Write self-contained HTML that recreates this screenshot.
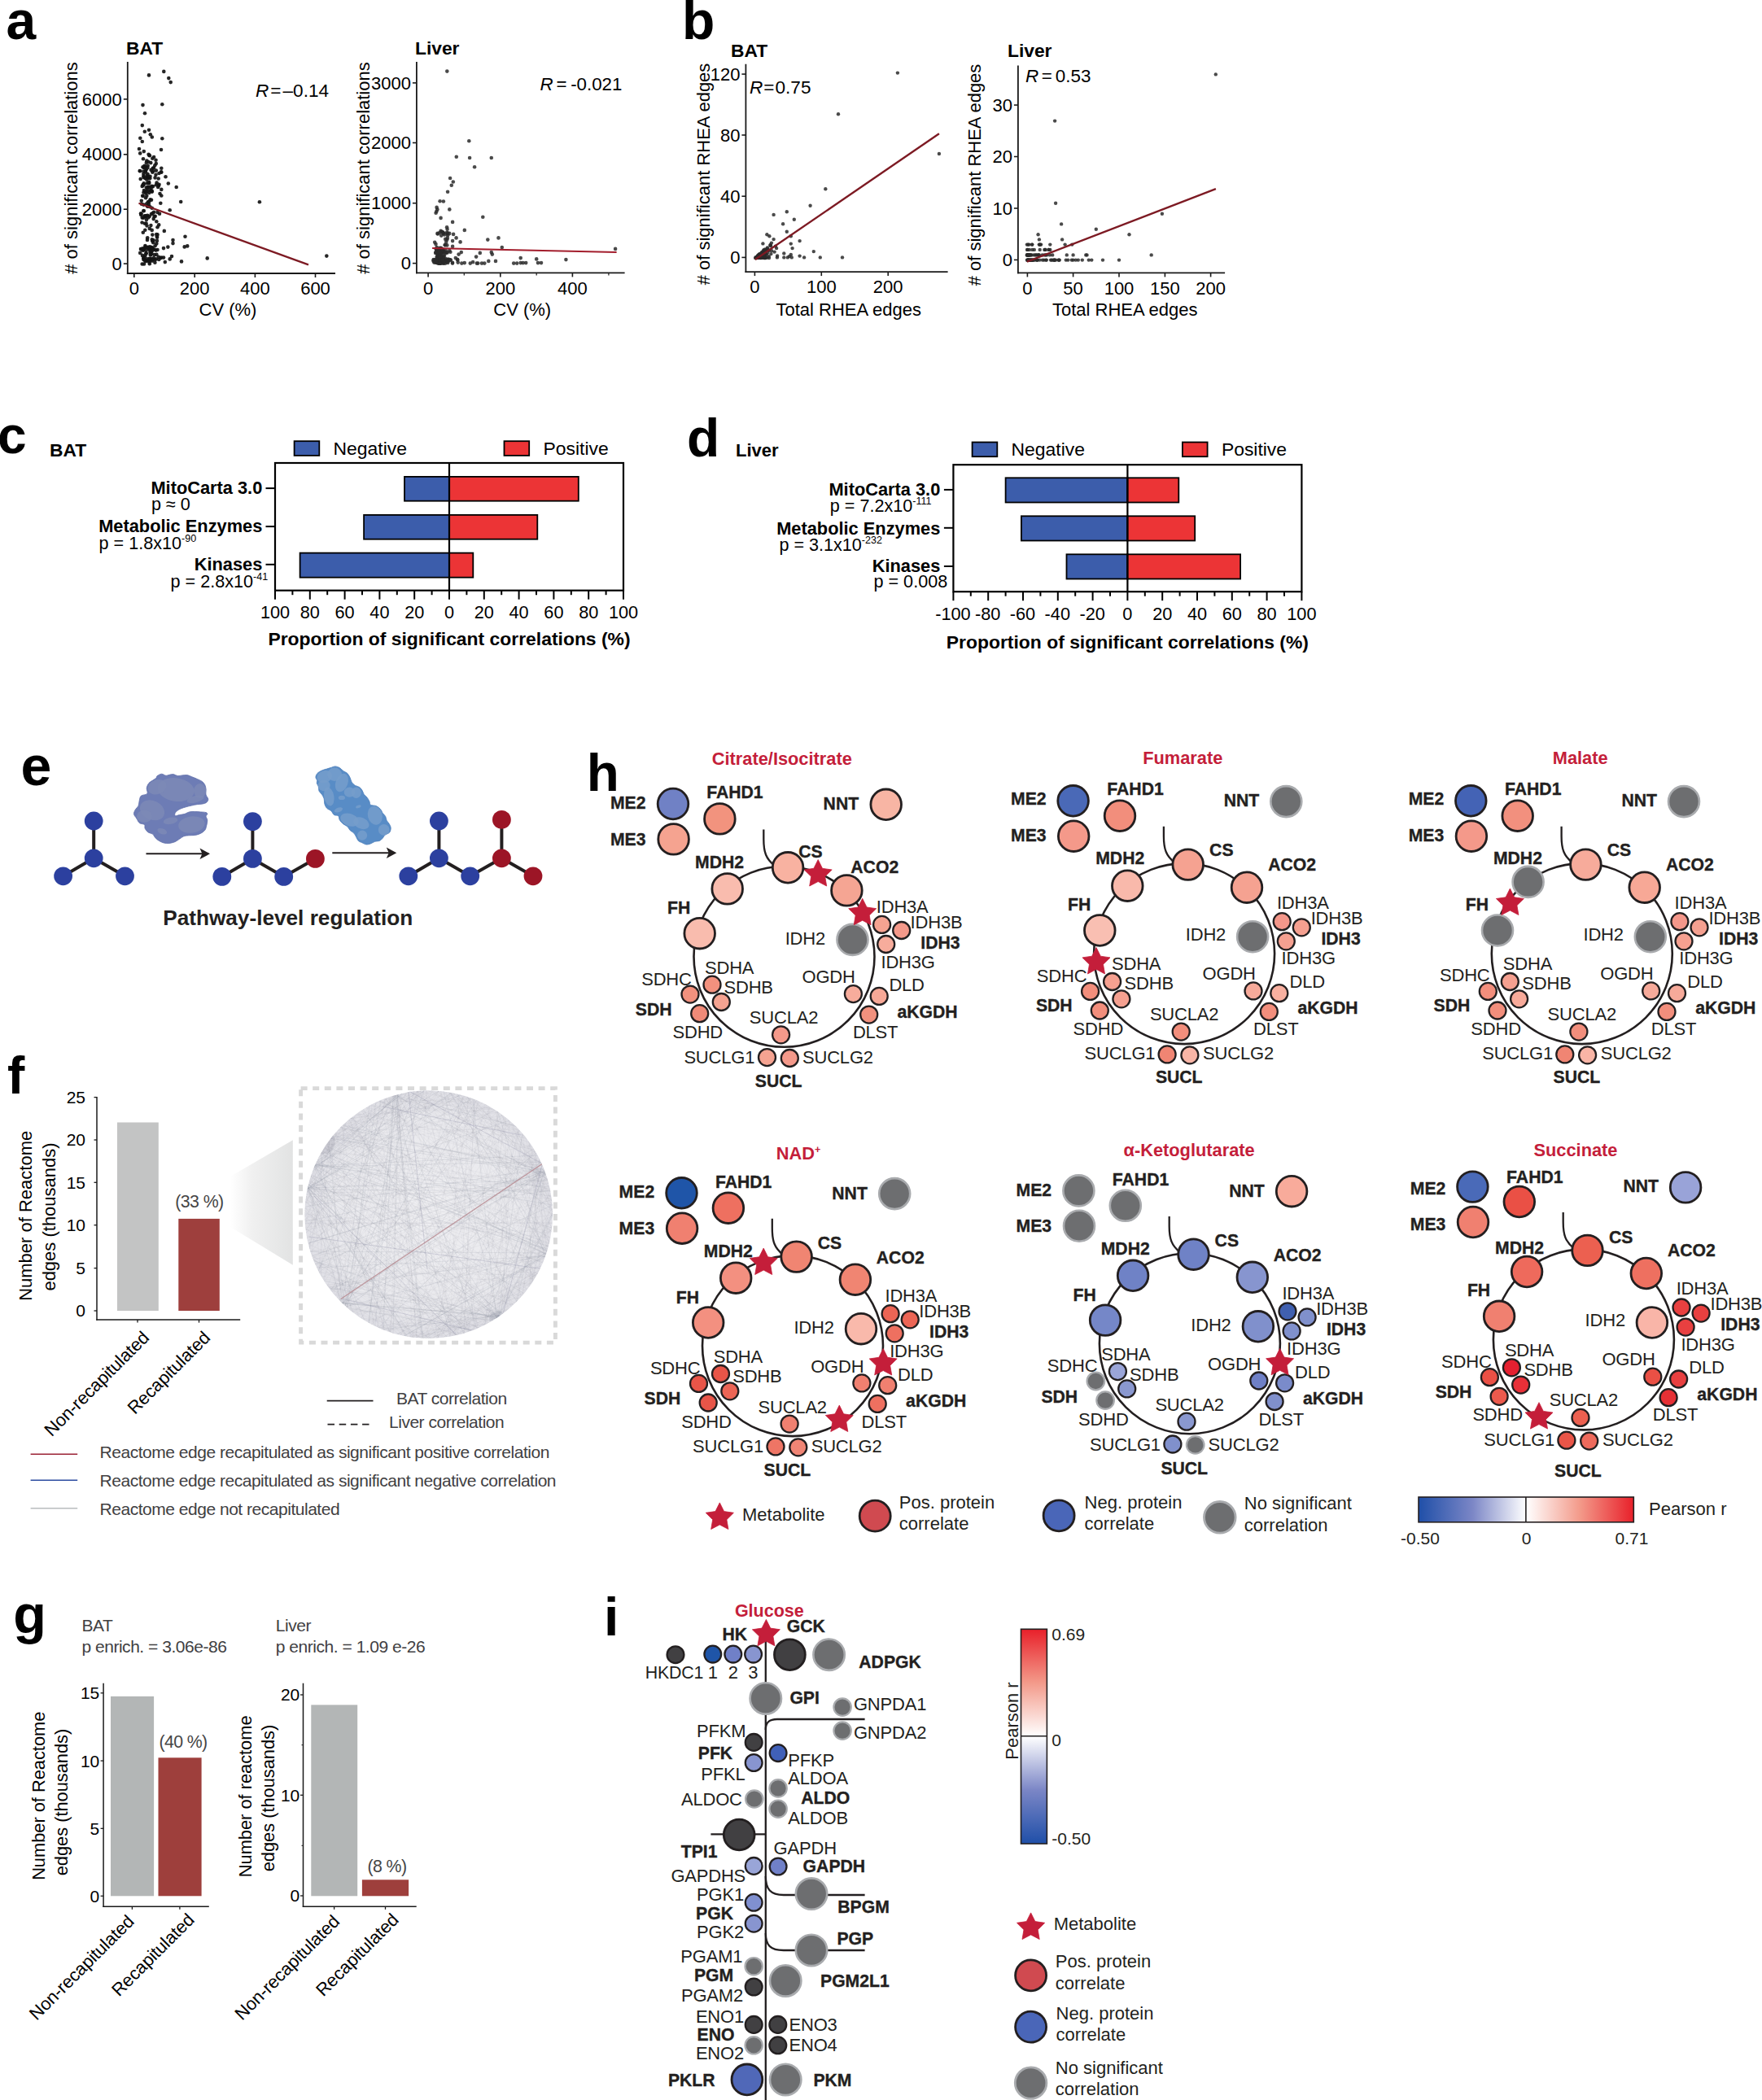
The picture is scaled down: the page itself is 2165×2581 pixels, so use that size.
<!DOCTYPE html>
<html lang="en"><head><meta charset="utf-8"><title>Figure</title>
<style>html,body{margin:0;padding:0;background:#fff}svg{display:block}text{font-family:"Liberation Sans", sans-serif}</style>
</head><body>
<svg width="2165" height="2581" viewBox="0 0 2165 2581">
<rect width="2165" height="2581" fill="#fff"/>
<text x="7.5" y="48.3" font-size="66" font-weight="bold" fill="#000">a</text>
<text x="838.0" y="47.5" font-size="66" font-weight="bold" fill="#000">b</text>
<text x="155.0" y="67.4" font-size="22.8" font-weight="bold" fill="#000">BAT</text>
<line x1="156.8" y1="76.0" x2="156.8" y2="336.9" stroke="#1a1a1a" stroke-width="1.8"/>
<line x1="155.9" y1="336.0" x2="412.0" y2="336.0" stroke="#1a1a1a" stroke-width="1.8"/>
<line x1="151.8" y1="121.9" x2="156.8" y2="121.9" stroke="#1a1a1a" stroke-width="1.6"/>
<text x="149.8" y="129.5" font-size="22" text-anchor="end" fill="#000">6000</text>
<line x1="151.8" y1="189.8" x2="156.8" y2="189.8" stroke="#1a1a1a" stroke-width="1.6"/>
<text x="149.8" y="197.4" font-size="22" text-anchor="end" fill="#000">4000</text>
<line x1="151.8" y1="257.2" x2="156.8" y2="257.2" stroke="#1a1a1a" stroke-width="1.6"/>
<text x="149.8" y="264.8" font-size="22" text-anchor="end" fill="#000">2000</text>
<line x1="151.8" y1="324.1" x2="156.8" y2="324.1" stroke="#1a1a1a" stroke-width="1.6"/>
<text x="149.8" y="331.7" font-size="22" text-anchor="end" fill="#000">0</text>
<line x1="164.8" y1="336.0" x2="164.8" y2="341.0" stroke="#1a1a1a" stroke-width="1.6"/>
<text x="164.8" y="362.3" font-size="22" text-anchor="middle" fill="#000">0</text>
<line x1="239.2" y1="336.0" x2="239.2" y2="341.0" stroke="#1a1a1a" stroke-width="1.6"/>
<text x="239.2" y="362.3" font-size="22" text-anchor="middle" fill="#000">200</text>
<line x1="313.4" y1="336.0" x2="313.4" y2="341.0" stroke="#1a1a1a" stroke-width="1.6"/>
<text x="313.4" y="362.3" font-size="22" text-anchor="middle" fill="#000">400</text>
<line x1="387.5" y1="336.0" x2="387.5" y2="341.0" stroke="#1a1a1a" stroke-width="1.6"/>
<text x="387.5" y="362.3" font-size="22" text-anchor="middle" fill="#000">600</text>
<text x="94.5" y="206.5" font-size="22" text-anchor="middle" transform="rotate(-90 94.5 206.5)" fill="#000"># of significant correlations</text>
<text x="280.0" y="388.0" font-size="22" text-anchor="middle" fill="#000">CV (%)</text>
<text x="314" y="118.6" font-size="22.6"><tspan font-style="italic">R</tspan><tspan dx="2">=</tspan><tspan dx="2">–0.14</tspan></text>
<g fill="#141414" fill-opacity="0.92">
<circle cx="183.0" cy="92.4" r="2.3"/><circle cx="201.3" cy="87.9" r="2.3"/><circle cx="207.3" cy="96.1" r="2.3"/><circle cx="209.7" cy="101.1" r="2.3"/><circle cx="175.5" cy="129.1" r="2.3"/><circle cx="199.3" cy="128.3" r="2.3"/><circle cx="178.0" cy="139.3" r="2.3"/><circle cx="174.8" cy="154.1" r="2.3"/><circle cx="183.0" cy="159.8" r="2.3"/><circle cx="177.8" cy="161.8" r="2.3"/><circle cx="184.8" cy="165.3" r="2.3"/><circle cx="186.8" cy="168.5" r="2.3"/><circle cx="172.3" cy="169.8" r="2.3"/><circle cx="199.3" cy="170.3" r="2.3"/><circle cx="174.8" cy="174.0" r="2.3"/><circle cx="171.0" cy="183.0" r="2.3"/><circle cx="198.0" cy="184.0" r="2.3"/><circle cx="203.5" cy="217.2" r="2.3"/><circle cx="206.8" cy="225.5" r="2.3"/><circle cx="216.7" cy="230.0" r="2.3"/><circle cx="222.2" cy="248.0" r="2.3"/><circle cx="318.9" cy="248.2" r="2.3"/><circle cx="208.7" cy="258.2" r="2.3"/><circle cx="201.8" cy="283.9" r="2.3"/><circle cx="227.5" cy="290.7" r="2.3"/><circle cx="212.5" cy="295.1" r="2.3"/><circle cx="212.5" cy="299.1" r="2.3"/><circle cx="230.2" cy="302.4" r="2.3"/><circle cx="226.7" cy="303.4" r="2.3"/><circle cx="401.3" cy="314.6" r="2.3"/><circle cx="254.7" cy="317.4" r="2.3"/><circle cx="223.0" cy="321.4" r="2.3"/><circle cx="211.0" cy="315.1" r="2.3"/><circle cx="208.7" cy="318.4" r="2.3"/><circle cx="202.8" cy="322.1" r="2.3"/><circle cx="191.5" cy="196.8" r="2.3"/><circle cx="191.8" cy="201.0" r="2.3"/><circle cx="187.8" cy="206.8" r="2.3"/><circle cx="195.5" cy="226.7" r="2.3"/><circle cx="197.3" cy="249.7" r="2.3"/><circle cx="193.5" cy="260.9" r="2.3"/><circle cx="196.0" cy="262.7" r="2.3"/><circle cx="192.3" cy="272.2" r="2.3"/><circle cx="193.5" cy="288.4" r="2.3"/><circle cx="192.3" cy="299.6" r="2.3"/><circle cx="201.0" cy="305.1" r="2.3"/><circle cx="206.3" cy="303.6" r="2.3"/><circle cx="197.3" cy="317.1" r="2.3"/><circle cx="201.0" cy="316.6" r="2.3"/><circle cx="179.3" cy="237.6" r="2.3"/><circle cx="178.5" cy="235.8" r="2.3"/><circle cx="179.8" cy="230.5" r="2.3"/><circle cx="181.1" cy="217.7" r="2.3"/><circle cx="190.7" cy="265.7" r="2.3"/><circle cx="185.6" cy="309.5" r="2.3"/><circle cx="176.2" cy="307.2" r="2.3"/><circle cx="179.7" cy="311.3" r="2.3"/><circle cx="173.8" cy="246.8" r="2.3"/><circle cx="175.7" cy="240.8" r="2.3"/><circle cx="185.5" cy="308.6" r="2.3"/><circle cx="178.4" cy="302.1" r="2.3"/><circle cx="181.5" cy="230.1" r="2.3"/><circle cx="185.2" cy="234.6" r="2.3"/><circle cx="190.5" cy="302.2" r="2.3"/><circle cx="176.7" cy="316.0" r="2.3"/><circle cx="187.3" cy="194.8" r="2.3"/><circle cx="181.8" cy="248.2" r="2.3"/><circle cx="195.0" cy="228.1" r="2.3"/><circle cx="198.3" cy="232.9" r="2.3"/><circle cx="173.0" cy="306.1" r="2.3"/><circle cx="176.6" cy="259.0" r="2.3"/><circle cx="184.2" cy="320.8" r="2.3"/><circle cx="183.9" cy="229.9" r="2.3"/><circle cx="191.5" cy="214.7" r="2.3"/><circle cx="186.4" cy="234.4" r="2.3"/><circle cx="176.0" cy="227.0" r="2.3"/><circle cx="179.8" cy="199.9" r="2.3"/><circle cx="189.1" cy="260.8" r="2.3"/><circle cx="179.6" cy="320.3" r="2.3"/><circle cx="178.1" cy="304.7" r="2.3"/><circle cx="176.4" cy="213.8" r="2.3"/><circle cx="171.8" cy="210.0" r="2.3"/><circle cx="176.5" cy="259.2" r="2.3"/><circle cx="176.6" cy="226.7" r="2.3"/><circle cx="174.7" cy="324.5" r="2.3"/><circle cx="180.7" cy="225.3" r="2.3"/><circle cx="175.1" cy="306.8" r="2.3"/><circle cx="196.5" cy="238.1" r="2.3"/><circle cx="173.6" cy="306.3" r="2.3"/><circle cx="181.6" cy="214.1" r="2.3"/><circle cx="188.3" cy="298.3" r="2.3"/><circle cx="181.7" cy="203.8" r="2.3"/><circle cx="184.0" cy="319.1" r="2.3"/><circle cx="175.5" cy="205.3" r="2.3"/><circle cx="183.4" cy="247.6" r="2.3"/><circle cx="189.0" cy="206.2" r="2.3"/><circle cx="176.6" cy="217.9" r="2.3"/><circle cx="178.7" cy="321.2" r="2.3"/><circle cx="180.7" cy="320.4" r="2.3"/><circle cx="190.6" cy="319.3" r="2.3"/><circle cx="181.6" cy="253.8" r="2.3"/><circle cx="188.0" cy="229.1" r="2.3"/><circle cx="193.5" cy="307.0" r="2.3"/><circle cx="183.2" cy="306.5" r="2.3"/><circle cx="182.4" cy="199.1" r="2.3"/><circle cx="178.0" cy="265.3" r="2.3"/><circle cx="185.8" cy="304.5" r="2.3"/><circle cx="194.7" cy="219.5" r="2.3"/><circle cx="180.3" cy="240.8" r="2.3"/><circle cx="172.2" cy="310.9" r="2.3"/><circle cx="183.9" cy="303.3" r="2.3"/><circle cx="192.2" cy="288.1" r="2.3"/><circle cx="179.6" cy="274.5" r="2.3"/><circle cx="187.3" cy="296.2" r="2.3"/><circle cx="176.5" cy="236.5" r="2.3"/><circle cx="185.4" cy="277.1" r="2.3"/><circle cx="178.3" cy="314.2" r="2.3"/><circle cx="193.1" cy="291.7" r="2.3"/><circle cx="181.0" cy="294.9" r="2.3"/><circle cx="185.3" cy="200.1" r="2.3"/><circle cx="182.6" cy="189.7" r="2.3"/><circle cx="198.0" cy="211.2" r="2.3"/><circle cx="182.4" cy="218.8" r="2.3"/><circle cx="189.8" cy="306.7" r="2.3"/><circle cx="183.4" cy="306.4" r="2.3"/><circle cx="189.1" cy="193.0" r="2.3"/><circle cx="190.3" cy="203.3" r="2.3"/><circle cx="180.5" cy="216.0" r="2.3"/><circle cx="181.3" cy="303.8" r="2.3"/><circle cx="179.1" cy="243.2" r="2.3"/><circle cx="178.7" cy="266.2" r="2.3"/><circle cx="176.8" cy="206.0" r="2.3"/><circle cx="198.3" cy="211.8" r="2.3"/><circle cx="195.4" cy="213.0" r="2.3"/><circle cx="188.7" cy="295.2" r="2.3"/><circle cx="180.0" cy="270.1" r="2.3"/><circle cx="181.7" cy="320.4" r="2.3"/><circle cx="185.5" cy="313.0" r="2.3"/><circle cx="182.2" cy="304.2" r="2.3"/><circle cx="176.3" cy="210.5" r="2.3"/><circle cx="176.4" cy="216.4" r="2.3"/><circle cx="181.0" cy="235.3" r="2.3"/><circle cx="178.9" cy="204.7" r="2.3"/><circle cx="178.0" cy="274.7" r="2.3"/><circle cx="176.8" cy="186.1" r="2.3"/><circle cx="179.3" cy="311.7" r="2.3"/><circle cx="183.8" cy="324.2" r="2.3"/><circle cx="186.5" cy="312.0" r="2.3"/><circle cx="187.3" cy="211.8" r="2.3"/><circle cx="185.6" cy="208.9" r="2.3"/><circle cx="185.1" cy="317.6" r="2.3"/><circle cx="174.6" cy="273.5" r="2.3"/><circle cx="181.2" cy="264.7" r="2.3"/><circle cx="183.4" cy="190.9" r="2.3"/><circle cx="175.9" cy="227.8" r="2.3"/><circle cx="182.3" cy="267.4" r="2.3"/><circle cx="174.7" cy="228.9" r="2.3"/><circle cx="175.2" cy="240.8" r="2.3"/><circle cx="176.3" cy="317.3" r="2.3"/><circle cx="178.1" cy="266.2" r="2.3"/><circle cx="188.9" cy="317.0" r="2.3"/><circle cx="195.2" cy="319.0" r="2.3"/><circle cx="183.2" cy="236.9" r="2.3"/><circle cx="194.8" cy="315.8" r="2.3"/><circle cx="180.1" cy="318.1" r="2.3"/><circle cx="172.0" cy="210.2" r="2.3"/><circle cx="181.2" cy="292.3" r="2.3"/><circle cx="184.4" cy="254.3" r="2.3"/><circle cx="187.3" cy="288.6" r="2.3"/><circle cx="179.7" cy="208.2" r="2.3"/><circle cx="175.7" cy="307.7" r="2.3"/><circle cx="177.0" cy="234.0" r="2.3"/><circle cx="198.3" cy="316.5" r="2.3"/><circle cx="174.0" cy="250.8" r="2.3"/><circle cx="176.2" cy="267.7" r="2.3"/><circle cx="183.6" cy="317.7" r="2.3"/><circle cx="175.8" cy="285.7" r="2.3"/><circle cx="183.8" cy="265.8" r="2.3"/><circle cx="181.0" cy="232.7" r="2.3"/><circle cx="184.5" cy="216.9" r="2.3"/><circle cx="198.3" cy="240.5" r="2.3"/><circle cx="186.8" cy="255.7" r="2.3"/><circle cx="183.7" cy="318.3" r="2.3"/><circle cx="177.5" cy="203.7" r="2.3"/><circle cx="193.5" cy="279.2" r="2.3"/><circle cx="178.6" cy="303.4" r="2.3"/><circle cx="184.2" cy="305.9" r="2.3"/><circle cx="191.8" cy="227.2" r="2.3"/><circle cx="180.4" cy="197.5" r="2.3"/><circle cx="178.9" cy="210.0" r="2.3"/><circle cx="185.9" cy="263.1" r="2.3"/><circle cx="175.7" cy="227.3" r="2.3"/><circle cx="187.0" cy="320.6" r="2.3"/><circle cx="192.9" cy="295.9" r="2.3"/><circle cx="184.6" cy="313.0" r="2.3"/><circle cx="173.5" cy="262.5" r="2.3"/><circle cx="183.8" cy="280.9" r="2.3"/><circle cx="184.6" cy="245.3" r="2.3"/><circle cx="186.7" cy="282.9" r="2.3"/><circle cx="175.0" cy="313.9" r="2.3"/><circle cx="177.0" cy="324.5" r="2.3"/><circle cx="176.7" cy="225.3" r="2.3"/><circle cx="172.7" cy="220.0" r="2.3"/><circle cx="194.2" cy="229.9" r="2.3"/><circle cx="183.3" cy="225.0" r="2.3"/><circle cx="186.8" cy="235.6" r="2.3"/><circle cx="179.5" cy="308.0" r="2.3"/><circle cx="175.3" cy="305.3" r="2.3"/><circle cx="185.6" cy="303.8" r="2.3"/><circle cx="192.8" cy="290.6" r="2.3"/><circle cx="173.0" cy="262.5" r="2.3"/><circle cx="188.1" cy="210.4" r="2.3"/><circle cx="186.8" cy="294.4" r="2.3"/><circle cx="189.8" cy="313.1" r="2.3"/><circle cx="181.0" cy="253.3" r="2.3"/><circle cx="179.1" cy="211.7" r="2.3"/><circle cx="191.9" cy="318.2" r="2.3"/><circle cx="178.3" cy="282.7" r="2.3"/><circle cx="174.7" cy="267.6" r="2.3"/><circle cx="183.4" cy="322.1" r="2.3"/><circle cx="184.2" cy="219.2" r="2.3"/><circle cx="186.4" cy="235.2" r="2.3"/><circle cx="180.6" cy="277.5" r="2.3"/><circle cx="182.3" cy="225.0" r="2.3"/><circle cx="191.5" cy="307.6" r="2.3"/><circle cx="179.6" cy="265.3" r="2.3"/><circle cx="186.9" cy="308.3" r="2.3"/><circle cx="176.0" cy="195.3" r="2.3"/><circle cx="186.4" cy="230.1" r="2.3"/><circle cx="182.3" cy="217.1" r="2.3"/><circle cx="198.3" cy="206.8" r="2.3"/><circle cx="187.6" cy="318.9" r="2.3"/><circle cx="183.9" cy="191.3" r="2.3"/><circle cx="186.0" cy="245.8" r="2.3"/><circle cx="192.6" cy="224.6" r="2.3"/><circle cx="173.5" cy="264.3" r="2.3"/><circle cx="172.2" cy="188.4" r="2.3"/><circle cx="188.7" cy="269.1" r="2.3"/><circle cx="187.6" cy="262.1" r="2.3"/><circle cx="182.5" cy="229.7" r="2.3"/><circle cx="186.4" cy="304.2" r="2.3"/><circle cx="182.9" cy="251.1" r="2.3"/><circle cx="180.4" cy="220.8" r="2.3"/><circle cx="184.4" cy="310.1" r="2.3"/><circle cx="176.3" cy="251.6" r="2.3"/><circle cx="190.6" cy="218.4" r="2.3"/><circle cx="181.3" cy="206.2" r="2.3"/><circle cx="179.7" cy="304.3" r="2.3"/><circle cx="176.4" cy="319.1" r="2.3"/><circle cx="183.1" cy="223.9" r="2.3"/><circle cx="187.2" cy="305.1" r="2.3"/><circle cx="177.5" cy="205.7" r="2.3"/><circle cx="189.5" cy="265.9" r="2.3"/><circle cx="191.8" cy="209.6" r="2.3"/><circle cx="192.4" cy="312.9" r="2.3"/><circle cx="177.7" cy="319.3" r="2.3"/><circle cx="188.0" cy="306.0" r="2.3"/><circle cx="180.1" cy="250.5" r="2.3"/><circle cx="178.3" cy="219.1" r="2.3"/><circle cx="186.4" cy="228.7" r="2.3"/><circle cx="195.2" cy="276.4" r="2.3"/><circle cx="185.1" cy="233.7" r="2.3"/><circle cx="190.4" cy="322.8" r="2.3"/><circle cx="178.4" cy="265.5" r="2.3"/>
</g>
<line x1="170.5" y1="249.7" x2="379.0" y2="325.4" stroke="#7d1a23" stroke-width="2.2"/>
<text x="510.0" y="67.4" font-size="22.8" font-weight="bold" fill="#000">Liver</text>
<line x1="511.9" y1="76.0" x2="511.9" y2="336.3" stroke="#1a1a1a" stroke-width="1.8"/>
<line x1="511.0" y1="335.4" x2="767.6" y2="335.4" stroke="#1a1a1a" stroke-width="1.8"/>
<line x1="506.9" y1="101.9" x2="511.9" y2="101.9" stroke="#1a1a1a" stroke-width="1.6"/>
<text x="504.9" y="109.5" font-size="22" text-anchor="end" fill="#000">3000</text>
<line x1="506.9" y1="175.5" x2="511.9" y2="175.5" stroke="#1a1a1a" stroke-width="1.6"/>
<text x="504.9" y="183.1" font-size="22" text-anchor="end" fill="#000">2000</text>
<line x1="506.9" y1="249.7" x2="511.9" y2="249.7" stroke="#1a1a1a" stroke-width="1.6"/>
<text x="504.9" y="257.3" font-size="22" text-anchor="end" fill="#000">1000</text>
<line x1="506.9" y1="323.6" x2="511.9" y2="323.6" stroke="#1a1a1a" stroke-width="1.6"/>
<text x="504.9" y="331.2" font-size="22" text-anchor="end" fill="#000">0</text>
<line x1="526.1" y1="335.4" x2="526.1" y2="340.4" stroke="#1a1a1a" stroke-width="1.6"/>
<text x="526.1" y="361.7" font-size="22" text-anchor="middle" fill="#000">0</text>
<line x1="614.8" y1="335.4" x2="614.8" y2="340.4" stroke="#1a1a1a" stroke-width="1.6"/>
<text x="614.8" y="361.7" font-size="22" text-anchor="middle" fill="#000">200</text>
<line x1="703.4" y1="335.4" x2="703.4" y2="340.4" stroke="#1a1a1a" stroke-width="1.6"/>
<text x="703.4" y="361.7" font-size="22" text-anchor="middle" fill="#000">400</text>
<line x1="570.3" y1="335.4" x2="570.3" y2="338.4" stroke="#1a1a1a" stroke-width="1.2"/>
<line x1="659.2" y1="335.4" x2="659.2" y2="338.4" stroke="#1a1a1a" stroke-width="1.2"/>
<line x1="747.9" y1="335.4" x2="747.9" y2="338.4" stroke="#1a1a1a" stroke-width="1.2"/>
<text x="453.5" y="206.5" font-size="22" text-anchor="middle" transform="rotate(-90 453.5 206.5)" fill="#000"># of significant correlations</text>
<text x="641.7" y="388.0" font-size="22" text-anchor="middle" fill="#000">CV (%)</text>
<text x="663.5" y="111" font-size="22.3"><tspan font-style="italic">R</tspan><tspan dx="4">=</tspan><tspan dx="4.5">-0.021</tspan></text>
<g fill="#2a2a2a" fill-opacity="0.85">
<circle cx="549.3" cy="87.6" r="2.3"/><circle cx="576.3" cy="173.3" r="2.3"/><circle cx="560.8" cy="192.8" r="2.3"/><circle cx="577.1" cy="194.0" r="2.3"/><circle cx="603.8" cy="194.0" r="2.3"/><circle cx="583.1" cy="205.3" r="2.3"/><circle cx="553.1" cy="219.0" r="2.3"/><circle cx="556.8" cy="223.5" r="2.3"/><circle cx="554.8" cy="227.7" r="2.3"/><circle cx="550.1" cy="235.7" r="2.3"/><circle cx="540.6" cy="247.2" r="2.3"/><circle cx="544.9" cy="247.5" r="2.3"/><circle cx="552.3" cy="257.4" r="2.3"/><circle cx="536.6" cy="254.9" r="2.3"/><circle cx="537.4" cy="257.4" r="2.3"/><circle cx="536.4" cy="259.7" r="2.3"/><circle cx="535.6" cy="261.7" r="2.3"/><circle cx="541.6" cy="267.9" r="2.3"/><circle cx="556.1" cy="272.9" r="2.3"/><circle cx="593.3" cy="266.7" r="2.3"/><circle cx="549.1" cy="279.2" r="2.3"/><circle cx="549.6" cy="281.7" r="2.3"/><circle cx="541.6" cy="283.9" r="2.3"/><circle cx="570.8" cy="282.9" r="2.3"/><circle cx="557.1" cy="287.9" r="2.3"/><circle cx="560.6" cy="292.4" r="2.3"/><circle cx="612.5" cy="292.4" r="2.3"/><circle cx="599.3" cy="294.6" r="2.3"/><circle cx="556.1" cy="296.1" r="2.3"/><circle cx="565.6" cy="297.4" r="2.3"/><circle cx="556.1" cy="302.9" r="2.3"/><circle cx="616.8" cy="304.1" r="2.3"/><circle cx="756.1" cy="305.9" r="2.3"/><circle cx="603.8" cy="310.1" r="2.3"/><circle cx="604.8" cy="312.6" r="2.3"/><circle cx="589.8" cy="310.9" r="2.3"/><circle cx="566.8" cy="310.1" r="2.3"/><circle cx="563.6" cy="312.6" r="2.3"/><circle cx="585.1" cy="315.6" r="2.3"/><circle cx="600.3" cy="320.9" r="2.3"/><circle cx="609.0" cy="320.9" r="2.3"/><circle cx="639.7" cy="317.1" r="2.3"/><circle cx="659.2" cy="318.4" r="2.3"/><circle cx="695.4" cy="319.1" r="2.3"/><circle cx="631.2" cy="323.6" r="2.3"/><circle cx="635.2" cy="323.6" r="2.3"/><circle cx="639.7" cy="323.1" r="2.3"/><circle cx="642.7" cy="323.1" r="2.3"/><circle cx="646.2" cy="323.1" r="2.3"/><circle cx="661.0" cy="323.1" r="2.3"/><circle cx="665.0" cy="323.1" r="2.3"/><circle cx="570.8" cy="323.1" r="2.3"/><circle cx="577.8" cy="323.6" r="2.3"/><circle cx="581.1" cy="322.1" r="2.3"/><circle cx="585.8" cy="323.6" r="2.3"/><circle cx="587.3" cy="323.6" r="2.3"/><circle cx="592.0" cy="323.6" r="2.3"/><circle cx="595.3" cy="323.6" r="2.3"/><circle cx="567.3" cy="323.6" r="2.3"/><circle cx="559.8" cy="317.1" r="2.3"/><circle cx="562.3" cy="319.6" r="2.3"/><circle cx="549.8" cy="292.6" r="2.3"/><circle cx="544.8" cy="286.9" r="2.3"/><circle cx="539.1" cy="320.5" r="2.3"/><circle cx="537.6" cy="314.8" r="2.3"/><circle cx="538.1" cy="320.2" r="2.3"/><circle cx="536.8" cy="322.9" r="2.3"/><circle cx="541.4" cy="318.9" r="2.3"/><circle cx="546.0" cy="319.3" r="2.3"/><circle cx="544.5" cy="320.0" r="2.3"/><circle cx="542.1" cy="309.6" r="2.3"/><circle cx="540.4" cy="305.8" r="2.3"/><circle cx="538.1" cy="323.5" r="2.3"/><circle cx="548.9" cy="310.5" r="2.3"/><circle cx="540.4" cy="321.5" r="2.3"/><circle cx="545.3" cy="286.5" r="2.3"/><circle cx="540.2" cy="321.4" r="2.3"/><circle cx="547.2" cy="321.2" r="2.3"/><circle cx="541.2" cy="323.8" r="2.3"/><circle cx="562.0" cy="318.7" r="2.3"/><circle cx="547.3" cy="317.8" r="2.3"/><circle cx="537.0" cy="307.3" r="2.3"/><circle cx="553.0" cy="319.6" r="2.3"/><circle cx="544.8" cy="310.1" r="2.3"/><circle cx="544.1" cy="285.5" r="2.3"/><circle cx="542.8" cy="323.2" r="2.3"/><circle cx="545.3" cy="308.7" r="2.3"/><circle cx="543.4" cy="310.8" r="2.3"/><circle cx="540.6" cy="321.9" r="2.3"/><circle cx="544.0" cy="322.8" r="2.3"/><circle cx="535.0" cy="319.0" r="2.3"/><circle cx="542.5" cy="318.9" r="2.3"/><circle cx="542.0" cy="304.8" r="2.3"/><circle cx="541.7" cy="312.3" r="2.3"/><circle cx="549.7" cy="287.5" r="2.3"/><circle cx="543.6" cy="317.6" r="2.3"/><circle cx="536.7" cy="304.1" r="2.3"/><circle cx="540.2" cy="286.0" r="2.3"/><circle cx="539.4" cy="323.1" r="2.3"/><circle cx="538.1" cy="319.5" r="2.3"/><circle cx="537.7" cy="318.6" r="2.3"/><circle cx="539.9" cy="323.7" r="2.3"/><circle cx="541.2" cy="305.4" r="2.3"/><circle cx="553.4" cy="309.7" r="2.3"/><circle cx="552.2" cy="286.9" r="2.3"/><circle cx="545.2" cy="322.9" r="2.3"/><circle cx="539.1" cy="322.8" r="2.3"/><circle cx="562.7" cy="322.6" r="2.3"/><circle cx="549.7" cy="320.6" r="2.3"/><circle cx="541.6" cy="308.9" r="2.3"/><circle cx="535.2" cy="310.9" r="2.3"/><circle cx="537.9" cy="287.5" r="2.3"/><circle cx="532.7" cy="319.0" r="2.3"/><circle cx="536.2" cy="321.7" r="2.3"/><circle cx="542.1" cy="319.1" r="2.3"/><circle cx="542.8" cy="319.2" r="2.3"/><circle cx="549.6" cy="310.4" r="2.3"/><circle cx="541.1" cy="322.1" r="2.3"/><circle cx="544.8" cy="323.7" r="2.3"/><circle cx="541.0" cy="323.6" r="2.3"/><circle cx="545.7" cy="318.7" r="2.3"/><circle cx="541.3" cy="321.5" r="2.3"/><circle cx="538.0" cy="312.2" r="2.3"/><circle cx="538.9" cy="306.4" r="2.3"/><circle cx="547.0" cy="301.3" r="2.3"/><circle cx="538.7" cy="316.4" r="2.3"/><circle cx="549.9" cy="319.0" r="2.3"/><circle cx="536.8" cy="320.3" r="2.3"/><circle cx="538.8" cy="308.0" r="2.3"/><circle cx="550.2" cy="322.9" r="2.3"/><circle cx="550.1" cy="289.3" r="2.3"/><circle cx="532.8" cy="319.7" r="2.3"/><circle cx="538.8" cy="323.4" r="2.3"/><circle cx="556.0" cy="323.6" r="2.3"/><circle cx="549.3" cy="294.6" r="2.3"/><circle cx="547.2" cy="293.9" r="2.3"/><circle cx="540.4" cy="304.7" r="2.3"/><circle cx="542.6" cy="318.5" r="2.3"/><circle cx="550.7" cy="318.5" r="2.3"/><circle cx="544.8" cy="314.5" r="2.3"/><circle cx="537.0" cy="309.7" r="2.3"/><circle cx="552.4" cy="319.0" r="2.3"/><circle cx="537.5" cy="286.9" r="2.3"/><circle cx="539.8" cy="323.2" r="2.3"/><circle cx="543.5" cy="308.4" r="2.3"/><circle cx="544.3" cy="322.7" r="2.3"/><circle cx="537.4" cy="319.8" r="2.3"/><circle cx="541.6" cy="309.8" r="2.3"/><circle cx="534.2" cy="297.8" r="2.3"/><circle cx="556.0" cy="322.8" r="2.3"/><circle cx="544.2" cy="323.3" r="2.3"/><circle cx="543.9" cy="306.4" r="2.3"/><circle cx="542.8" cy="284.8" r="2.3"/><circle cx="535.8" cy="306.6" r="2.3"/><circle cx="547.0" cy="323.8" r="2.3"/><circle cx="534.3" cy="322.4" r="2.3"/><circle cx="541.4" cy="322.9" r="2.3"/><circle cx="537.6" cy="314.4" r="2.3"/><circle cx="550.3" cy="286.5" r="2.3"/><circle cx="539.0" cy="319.9" r="2.3"/><circle cx="542.2" cy="289.6" r="2.3"/><circle cx="542.3" cy="316.5" r="2.3"/><circle cx="539.4" cy="323.2" r="2.3"/><circle cx="543.9" cy="306.3" r="2.3"/><circle cx="550.9" cy="321.0" r="2.3"/><circle cx="544.9" cy="319.5" r="2.3"/><circle cx="543.2" cy="319.3" r="2.3"/><circle cx="547.0" cy="321.4" r="2.3"/><circle cx="535.5" cy="300.1" r="2.3"/><circle cx="546.6" cy="320.6" r="2.3"/><circle cx="553.8" cy="319.5" r="2.3"/><circle cx="538.7" cy="319.6" r="2.3"/><circle cx="536.8" cy="315.5" r="2.3"/><circle cx="537.4" cy="311.5" r="2.3"/><circle cx="542.7" cy="319.3" r="2.3"/><circle cx="544.8" cy="316.5" r="2.3"/><circle cx="546.7" cy="301.1" r="2.3"/><circle cx="541.9" cy="314.6" r="2.3"/><circle cx="544.4" cy="320.8" r="2.3"/><circle cx="540.5" cy="314.4" r="2.3"/><circle cx="535.5" cy="310.5" r="2.3"/><circle cx="545.9" cy="288.5" r="2.3"/><circle cx="543.8" cy="285.5" r="2.3"/><circle cx="541.8" cy="319.8" r="2.3"/><circle cx="540.6" cy="315.9" r="2.3"/><circle cx="536.5" cy="317.9" r="2.3"/><circle cx="548.8" cy="322.3" r="2.3"/><circle cx="536.2" cy="305.5" r="2.3"/><circle cx="540.5" cy="320.7" r="2.3"/><circle cx="532.5" cy="320.8" r="2.3"/><circle cx="536.5" cy="322.6" r="2.3"/><circle cx="547.5" cy="307.2" r="2.3"/><circle cx="536.3" cy="322.8" r="2.3"/><circle cx="547.0" cy="311.6" r="2.3"/><circle cx="545.8" cy="322.0" r="2.3"/><circle cx="541.0" cy="311.6" r="2.3"/><circle cx="535.8" cy="309.6" r="2.3"/><circle cx="549.7" cy="320.5" r="2.3"/><circle cx="533.4" cy="322.5" r="2.3"/><circle cx="543.5" cy="320.1" r="2.3"/><circle cx="546.5" cy="309.7" r="2.3"/><circle cx="549.1" cy="285.9" r="2.3"/><circle cx="545.9" cy="314.5" r="2.3"/><circle cx="540.5" cy="323.8" r="2.3"/><circle cx="536.3" cy="319.7" r="2.3"/><circle cx="543.9" cy="319.2" r="2.3"/><circle cx="548.2" cy="297.6" r="2.3"/><circle cx="549.3" cy="301.4" r="2.3"/><circle cx="540.6" cy="311.1" r="2.3"/><circle cx="552.2" cy="308.0" r="2.3"/><circle cx="536.3" cy="321.1" r="2.3"/>
</g>
<line x1="531.1" y1="305.1" x2="757.6" y2="310.1" stroke="#a31d2c" stroke-width="2.0"/>
<text x="898.0" y="70.4" font-size="22.8" font-weight="bold" fill="#000">BAT</text>
<line x1="916.4" y1="78.7" x2="916.4" y2="335.0" stroke="#1a1a1a" stroke-width="1.8"/>
<line x1="915.5" y1="334.1" x2="1164.6" y2="334.1" stroke="#1a1a1a" stroke-width="1.8"/>
<line x1="911.4" y1="91.1" x2="916.4" y2="91.1" stroke="#1a1a1a" stroke-width="1.6"/>
<text x="909.4" y="98.7" font-size="22" text-anchor="end" fill="#000">120</text>
<line x1="911.4" y1="166.0" x2="916.4" y2="166.0" stroke="#1a1a1a" stroke-width="1.6"/>
<text x="909.4" y="173.6" font-size="22" text-anchor="end" fill="#000">80</text>
<line x1="911.4" y1="241.2" x2="916.4" y2="241.2" stroke="#1a1a1a" stroke-width="1.6"/>
<text x="909.4" y="248.8" font-size="22" text-anchor="end" fill="#000">40</text>
<line x1="911.4" y1="316.4" x2="916.4" y2="316.4" stroke="#1a1a1a" stroke-width="1.6"/>
<text x="909.4" y="324.0" font-size="22" text-anchor="end" fill="#000">0</text>
<line x1="927.4" y1="334.1" x2="927.4" y2="339.1" stroke="#1a1a1a" stroke-width="1.6"/>
<text x="927.4" y="360.4" font-size="22" text-anchor="middle" fill="#000">0</text>
<line x1="1009.3" y1="334.1" x2="1009.3" y2="339.1" stroke="#1a1a1a" stroke-width="1.6"/>
<text x="1009.3" y="360.4" font-size="22" text-anchor="middle" fill="#000">100</text>
<line x1="1091.2" y1="334.1" x2="1091.2" y2="339.1" stroke="#1a1a1a" stroke-width="1.6"/>
<text x="1091.2" y="360.4" font-size="22" text-anchor="middle" fill="#000">200</text>
<text x="871.5" y="214.0" font-size="22" text-anchor="middle" transform="rotate(-90 871.5 214.0)" fill="#000"># of significant RHEA edges</text>
<text x="1042.7" y="388.3" font-size="22" text-anchor="middle" fill="#000">Total RHEA edges</text>
<text x="921" y="114.9" font-size="22.6"><tspan font-style="italic">R</tspan><tspan dx="1">=</tspan><tspan dx="1">0.75</tspan></text>
<g fill="#2a2a2a" fill-opacity="0.85">
<circle cx="1102.9" cy="89.6" r="2.2"/><circle cx="1030.0" cy="140.3" r="2.2"/><circle cx="1153.9" cy="189.0" r="2.2"/><circle cx="1014.3" cy="232.2" r="2.2"/><circle cx="995.6" cy="252.7" r="2.2"/><circle cx="966.8" cy="260.2" r="2.2"/><circle cx="950.6" cy="263.9" r="2.2"/><circle cx="975.8" cy="269.7" r="2.2"/><circle cx="962.1" cy="275.2" r="2.2"/><circle cx="966.8" cy="284.7" r="2.2"/><circle cx="942.4" cy="288.2" r="2.2"/><circle cx="945.4" cy="290.2" r="2.2"/><circle cx="971.8" cy="290.2" r="2.2"/><circle cx="950.6" cy="294.1" r="2.2"/><circle cx="982.6" cy="296.1" r="2.2"/><circle cx="937.4" cy="299.4" r="2.2"/><circle cx="971.8" cy="299.6" r="2.2"/><circle cx="973.6" cy="305.1" r="2.2"/><circle cx="999.8" cy="309.1" r="2.2"/><circle cx="963.3" cy="311.4" r="2.2"/><circle cx="971.8" cy="312.9" r="2.2"/><circle cx="982.6" cy="314.6" r="2.2"/><circle cx="988.1" cy="316.4" r="2.2"/><circle cx="1007.8" cy="316.4" r="2.2"/><circle cx="1035.0" cy="316.4" r="2.2"/><circle cx="954.9" cy="316.4" r="2.2"/><circle cx="963.3" cy="316.4" r="2.2"/><circle cx="967.8" cy="316.4" r="2.2"/><circle cx="969.8" cy="315.1" r="2.2"/><circle cx="972.8" cy="316.4" r="2.2"/><circle cx="946.4" cy="301.6" r="2.2"/><circle cx="947.9" cy="298.6" r="2.2"/><circle cx="952.9" cy="302.6" r="2.2"/><circle cx="954.1" cy="305.1" r="2.2"/><circle cx="951.6" cy="309.6" r="2.2"/><circle cx="947.4" cy="312.1" r="2.2"/><circle cx="932.6" cy="314.9" r="2.2"/><circle cx="940.0" cy="317.0" r="2.2"/><circle cx="930.1" cy="316.1" r="2.2"/><circle cx="940.9" cy="312.5" r="2.2"/><circle cx="933.5" cy="312.0" r="2.2"/><circle cx="939.6" cy="316.8" r="2.2"/><circle cx="934.6" cy="312.8" r="2.2"/><circle cx="936.8" cy="312.8" r="2.2"/><circle cx="932.1" cy="313.5" r="2.2"/><circle cx="941.9" cy="312.6" r="2.2"/><circle cx="932.7" cy="315.4" r="2.2"/><circle cx="939.4" cy="314.8" r="2.2"/><circle cx="930.5" cy="316.1" r="2.2"/><circle cx="942.7" cy="305.5" r="2.2"/><circle cx="933.9" cy="314.3" r="2.2"/><circle cx="931.6" cy="314.8" r="2.2"/><circle cx="939.3" cy="313.5" r="2.2"/><circle cx="932.1" cy="314.6" r="2.2"/><circle cx="936.0" cy="316.8" r="2.2"/><circle cx="932.1" cy="316.9" r="2.2"/><circle cx="945.0" cy="317.0" r="2.2"/><circle cx="936.0" cy="312.0" r="2.2"/><circle cx="946.6" cy="300.9" r="2.2"/><circle cx="937.9" cy="310.5" r="2.2"/><circle cx="936.5" cy="311.5" r="2.2"/><circle cx="931.8" cy="314.3" r="2.2"/><circle cx="939.7" cy="315.1" r="2.2"/><circle cx="943.6" cy="307.3" r="2.2"/><circle cx="932.0" cy="313.9" r="2.2"/><circle cx="930.9" cy="316.3" r="2.2"/><circle cx="938.9" cy="313.8" r="2.2"/><circle cx="940.6" cy="316.5" r="2.2"/><circle cx="934.1" cy="316.9" r="2.2"/><circle cx="940.0" cy="306.5" r="2.2"/><circle cx="938.9" cy="317.0" r="2.2"/><circle cx="938.3" cy="307.4" r="2.2"/><circle cx="936.0" cy="313.9" r="2.2"/><circle cx="937.6" cy="315.7" r="2.2"/><circle cx="934.8" cy="317.1" r="2.2"/><circle cx="931.9" cy="316.8" r="2.2"/><circle cx="933.8" cy="316.4" r="2.2"/><circle cx="941.1" cy="307.9" r="2.2"/><circle cx="929.8" cy="317.0" r="2.2"/><circle cx="931.9" cy="314.3" r="2.2"/><circle cx="940.6" cy="309.5" r="2.2"/><circle cx="932.5" cy="316.0" r="2.2"/><circle cx="938.9" cy="309.6" r="2.2"/><circle cx="930.9" cy="314.8" r="2.2"/><circle cx="928.2" cy="317.0" r="2.2"/><circle cx="930.7" cy="315.8" r="2.2"/><circle cx="932.8" cy="315.4" r="2.2"/><circle cx="937.2" cy="315.8" r="2.2"/><circle cx="933.8" cy="315.1" r="2.2"/><circle cx="935.8" cy="314.2" r="2.2"/><circle cx="938.7" cy="307.4" r="2.2"/><circle cx="930.8" cy="316.9" r="2.2"/><circle cx="940.4" cy="308.8" r="2.2"/><circle cx="932.8" cy="312.6" r="2.2"/><circle cx="936.3" cy="312.3" r="2.2"/><circle cx="933.1" cy="315.2" r="2.2"/><circle cx="937.5" cy="311.6" r="2.2"/><circle cx="940.1" cy="317.1" r="2.2"/><circle cx="937.3" cy="313.3" r="2.2"/><circle cx="942.7" cy="316.5" r="2.2"/><circle cx="937.6" cy="309.6" r="2.2"/><circle cx="935.6" cy="310.9" r="2.2"/><circle cx="937.6" cy="310.8" r="2.2"/><circle cx="934.4" cy="313.7" r="2.2"/><circle cx="933.7" cy="316.0" r="2.2"/><circle cx="928.5" cy="316.8" r="2.2"/><circle cx="948.1" cy="308.2" r="2.2"/><circle cx="931.4" cy="314.5" r="2.2"/><circle cx="934.9" cy="316.5" r="2.2"/><circle cx="933.2" cy="314.2" r="2.2"/><circle cx="943.0" cy="304.4" r="2.2"/><circle cx="938.4" cy="315.2" r="2.2"/><circle cx="929.6" cy="316.8" r="2.2"/><circle cx="931.6" cy="315.7" r="2.2"/><circle cx="936.4" cy="315.9" r="2.2"/><circle cx="955.1" cy="314.4" r="2.2"/><circle cx="937.0" cy="310.3" r="2.2"/><circle cx="934.7" cy="313.7" r="2.2"/><circle cx="936.9" cy="316.8" r="2.2"/><circle cx="945.1" cy="307.8" r="2.2"/><circle cx="929.5" cy="315.9" r="2.2"/><circle cx="947.1" cy="302.2" r="2.2"/><circle cx="939.0" cy="314.4" r="2.2"/><circle cx="933.5" cy="316.7" r="2.2"/><circle cx="929.3" cy="316.4" r="2.2"/><circle cx="936.3" cy="309.8" r="2.2"/><circle cx="934.5" cy="313.4" r="2.2"/><circle cx="933.5" cy="315.7" r="2.2"/><circle cx="931.7" cy="314.8" r="2.2"/><circle cx="940.3" cy="311.8" r="2.2"/><circle cx="931.5" cy="313.8" r="2.2"/><circle cx="933.6" cy="315.7" r="2.2"/><circle cx="929.1" cy="316.1" r="2.2"/><circle cx="940.6" cy="307.6" r="2.2"/><circle cx="938.2" cy="310.8" r="2.2"/><circle cx="930.9" cy="314.9" r="2.2"/><circle cx="930.5" cy="315.5" r="2.2"/><circle cx="933.0" cy="316.6" r="2.2"/><circle cx="938.9" cy="314.4" r="2.2"/><circle cx="934.8" cy="315.5" r="2.2"/><circle cx="934.7" cy="312.7" r="2.2"/><circle cx="941.0" cy="316.7" r="2.2"/><circle cx="931.2" cy="316.4" r="2.2"/><circle cx="944.8" cy="314.9" r="2.2"/><circle cx="935.5" cy="316.4" r="2.2"/><circle cx="943.3" cy="310.5" r="2.2"/>
</g>
<line x1="927.9" y1="319.1" x2="1153.9" y2="164.3" stroke="#7d1a23" stroke-width="2.4"/>
<text x="1238.0" y="70.4" font-size="22.8" font-weight="bold" fill="#000">Liver</text>
<line x1="1250.9" y1="80.4" x2="1250.9" y2="336.3" stroke="#1a1a1a" stroke-width="1.8"/>
<line x1="1250.0" y1="335.4" x2="1505.1" y2="335.4" stroke="#1a1a1a" stroke-width="1.8"/>
<line x1="1245.9" y1="129.1" x2="1250.9" y2="129.1" stroke="#1a1a1a" stroke-width="1.6"/>
<text x="1243.9" y="136.7" font-size="22" text-anchor="end" fill="#000">30</text>
<line x1="1245.9" y1="192.5" x2="1250.9" y2="192.5" stroke="#1a1a1a" stroke-width="1.6"/>
<text x="1243.9" y="200.1" font-size="22" text-anchor="end" fill="#000">20</text>
<line x1="1245.9" y1="256.0" x2="1250.9" y2="256.0" stroke="#1a1a1a" stroke-width="1.6"/>
<text x="1243.9" y="263.6" font-size="22" text-anchor="end" fill="#000">10</text>
<line x1="1245.9" y1="319.4" x2="1250.9" y2="319.4" stroke="#1a1a1a" stroke-width="1.6"/>
<text x="1243.9" y="327.0" font-size="22" text-anchor="end" fill="#000">0</text>
<line x1="1262.4" y1="335.4" x2="1262.4" y2="340.4" stroke="#1a1a1a" stroke-width="1.6"/>
<text x="1262.4" y="361.7" font-size="22" text-anchor="middle" fill="#000">0</text>
<line x1="1318.6" y1="335.4" x2="1318.6" y2="340.4" stroke="#1a1a1a" stroke-width="1.6"/>
<text x="1318.6" y="361.7" font-size="22" text-anchor="middle" fill="#000">50</text>
<line x1="1375.0" y1="335.4" x2="1375.0" y2="340.4" stroke="#1a1a1a" stroke-width="1.6"/>
<text x="1375.0" y="361.7" font-size="22" text-anchor="middle" fill="#000">100</text>
<line x1="1431.4" y1="335.4" x2="1431.4" y2="340.4" stroke="#1a1a1a" stroke-width="1.6"/>
<text x="1431.4" y="361.7" font-size="22" text-anchor="middle" fill="#000">150</text>
<line x1="1487.6" y1="335.4" x2="1487.6" y2="340.4" stroke="#1a1a1a" stroke-width="1.6"/>
<text x="1487.6" y="361.7" font-size="22" text-anchor="middle" fill="#000">200</text>
<text x="1205.0" y="215.0" font-size="22" text-anchor="middle" transform="rotate(-90 1205.0 215.0)" fill="#000"># of significant RHEA edges</text>
<text x="1382.2" y="388.3" font-size="22" text-anchor="middle" fill="#000">Total RHEA edges</text>
<text x="1260" y="101.1" font-size="22.4"><tspan font-style="italic">R</tspan><tspan dx="3.5">=</tspan><tspan dx="4">0.53</tspan></text>
<g fill="#2a2a2a" fill-opacity="0.85">
<circle cx="1493.8" cy="91.4" r="2.2"/><circle cx="1296.1" cy="148.6" r="2.2"/><circle cx="1297.1" cy="249.7" r="2.2"/><circle cx="1427.9" cy="262.7" r="2.2"/><circle cx="1304.1" cy="275.4" r="2.2"/><circle cx="1346.8" cy="281.7" r="2.2"/><circle cx="1387.5" cy="288.2" r="2.2"/><circle cx="1275.6" cy="288.2" r="2.2"/><circle cx="1276.9" cy="294.4" r="2.2"/><circle cx="1305.1" cy="294.4" r="2.2"/><circle cx="1414.7" cy="313.4" r="2.2"/><circle cx="1375.0" cy="319.6" r="2.2"/><circle cx="1355.0" cy="319.6" r="2.2"/><circle cx="1341.3" cy="319.6" r="2.2"/><circle cx="1337.8" cy="319.6" r="2.2"/><circle cx="1329.8" cy="319.6" r="2.2"/><circle cx="1324.8" cy="319.6" r="2.2"/><circle cx="1321.8" cy="319.6" r="2.2"/><circle cx="1318.6" cy="319.6" r="2.2"/><circle cx="1316.8" cy="319.6" r="2.2"/><circle cx="1312.3" cy="319.6" r="2.2"/><circle cx="1309.8" cy="319.6" r="2.2"/><circle cx="1310.8" cy="313.4" r="2.2"/><circle cx="1318.6" cy="313.4" r="2.2"/><circle cx="1334.3" cy="313.4" r="2.2"/><circle cx="1335.5" cy="313.4" r="2.2"/><circle cx="1308.6" cy="300.6" r="2.2"/><circle cx="1317.3" cy="300.6" r="2.2"/><circle cx="1290.3" cy="300.6" r="2.2"/><circle cx="1269.0" cy="319.6" r="2.2"/><circle cx="1291.1" cy="319.6" r="2.2"/><circle cx="1274.1" cy="319.6" r="2.2"/><circle cx="1280.9" cy="319.6" r="2.2"/><circle cx="1263.7" cy="319.6" r="2.2"/><circle cx="1265.5" cy="319.6" r="2.2"/><circle cx="1262.3" cy="319.6" r="2.2"/><circle cx="1285.2" cy="319.6" r="2.2"/><circle cx="1277.4" cy="319.6" r="2.2"/><circle cx="1263.7" cy="319.6" r="2.2"/><circle cx="1293.9" cy="319.6" r="2.2"/><circle cx="1266.7" cy="319.6" r="2.2"/><circle cx="1271.5" cy="319.6" r="2.2"/><circle cx="1263.9" cy="319.6" r="2.2"/><circle cx="1266.8" cy="319.6" r="2.2"/><circle cx="1292.1" cy="319.6" r="2.2"/><circle cx="1268.8" cy="319.6" r="2.2"/><circle cx="1264.2" cy="319.6" r="2.2"/><circle cx="1274.7" cy="319.6" r="2.2"/><circle cx="1268.3" cy="319.6" r="2.2"/><circle cx="1295.8" cy="319.6" r="2.2"/><circle cx="1263.1" cy="319.6" r="2.2"/><circle cx="1300.5" cy="319.6" r="2.2"/><circle cx="1262.3" cy="319.6" r="2.2"/><circle cx="1295.3" cy="319.6" r="2.2"/><circle cx="1282.8" cy="319.6" r="2.2"/><circle cx="1265.2" cy="319.6" r="2.2"/><circle cx="1274.1" cy="319.6" r="2.2"/><circle cx="1267.3" cy="319.6" r="2.2"/><circle cx="1266.4" cy="319.6" r="2.2"/><circle cx="1265.0" cy="319.6" r="2.2"/><circle cx="1269.8" cy="319.6" r="2.2"/><circle cx="1301.3" cy="319.6" r="2.2"/><circle cx="1301.7" cy="319.6" r="2.2"/><circle cx="1297.1" cy="319.6" r="2.2"/><circle cx="1262.8" cy="319.6" r="2.2"/><circle cx="1267.4" cy="319.6" r="2.2"/><circle cx="1295.4" cy="319.6" r="2.2"/><circle cx="1262.3" cy="319.6" r="2.2"/><circle cx="1285.8" cy="319.6" r="2.2"/><circle cx="1266.4" cy="313.4" r="2.2"/><circle cx="1293.2" cy="313.4" r="2.2"/><circle cx="1261.9" cy="313.4" r="2.2"/><circle cx="1284.9" cy="313.4" r="2.2"/><circle cx="1267.7" cy="313.4" r="2.2"/><circle cx="1263.3" cy="313.4" r="2.2"/><circle cx="1261.9" cy="313.4" r="2.2"/><circle cx="1286.1" cy="313.4" r="2.2"/><circle cx="1273.5" cy="313.4" r="2.2"/><circle cx="1264.1" cy="313.4" r="2.2"/><circle cx="1270.5" cy="313.4" r="2.2"/><circle cx="1289.9" cy="313.4" r="2.2"/><circle cx="1264.7" cy="313.4" r="2.2"/><circle cx="1275.1" cy="313.4" r="2.2"/><circle cx="1263.2" cy="313.4" r="2.2"/><circle cx="1264.0" cy="313.4" r="2.2"/><circle cx="1283.3" cy="313.4" r="2.2"/><circle cx="1280.7" cy="313.4" r="2.2"/><circle cx="1264.3" cy="313.4" r="2.2"/><circle cx="1262.4" cy="313.4" r="2.2"/><circle cx="1262.5" cy="313.4" r="2.2"/><circle cx="1276.5" cy="313.4" r="2.2"/><circle cx="1272.4" cy="313.4" r="2.2"/><circle cx="1266.0" cy="313.4" r="2.2"/><circle cx="1264.5" cy="313.4" r="2.2"/><circle cx="1276.7" cy="313.4" r="2.2"/><circle cx="1283.4" cy="306.9" r="2.2"/><circle cx="1288.7" cy="306.9" r="2.2"/><circle cx="1277.7" cy="306.9" r="2.2"/><circle cx="1264.8" cy="306.9" r="2.2"/><circle cx="1262.4" cy="306.9" r="2.2"/><circle cx="1284.6" cy="306.9" r="2.2"/><circle cx="1270.8" cy="306.9" r="2.2"/><circle cx="1284.1" cy="306.9" r="2.2"/><circle cx="1262.2" cy="306.9" r="2.2"/><circle cx="1288.6" cy="306.9" r="2.2"/><circle cx="1268.4" cy="306.9" r="2.2"/><circle cx="1290.3" cy="306.9" r="2.2"/><circle cx="1277.7" cy="300.6" r="2.2"/><circle cx="1268.3" cy="300.6" r="2.2"/><circle cx="1261.9" cy="300.6" r="2.2"/><circle cx="1279.1" cy="300.6" r="2.2"/><circle cx="1268.0" cy="300.6" r="2.2"/><circle cx="1277.9" cy="300.6" r="2.2"/><circle cx="1264.3" cy="300.6" r="2.2"/><circle cx="1263.2" cy="300.6" r="2.2"/><circle cx="1276.8" cy="300.6" r="2.2"/>
</g>
<line x1="1261.9" y1="321.6" x2="1493.9" y2="232.2" stroke="#7d1a23" stroke-width="2.4"/>
<text x="-3.0" y="556.5" font-size="64" font-weight="bold" fill="#000">c</text>
<text x="844.0" y="561.2" font-size="66" font-weight="bold" fill="#000">d</text>
<text x="61.0" y="560.5" font-size="22.8" font-weight="bold" fill="#000">BAT</text>
<rect x="361.6" y="542.2" width="30.7" height="17.7" fill="#3c5dab" stroke="#000" stroke-width="1.8"/>
<text x="409.6" y="558.8" font-size="22.9" fill="#000">Negative</text>
<rect x="619.5" y="542.2" width="30.7" height="17.7" fill="#ec3436" stroke="#000" stroke-width="1.8"/>
<text x="667.5" y="558.8" font-size="22.9" fill="#000">Positive</text>
<rect x="497.0" y="585.9" width="55.0" height="29.8" fill="#3c5dab" stroke="#000" stroke-width="1.8"/>
<rect x="552.0" y="585.9" width="158.8" height="29.8" fill="#ec3436" stroke="#000" stroke-width="1.8"/>
<rect x="447.1" y="632.9" width="104.9" height="29.8" fill="#3c5dab" stroke="#000" stroke-width="1.8"/>
<rect x="552.0" y="632.9" width="108.3" height="29.8" fill="#ec3436" stroke="#000" stroke-width="1.8"/>
<rect x="368.6" y="679.6" width="183.4" height="30.1" fill="#3c5dab" stroke="#000" stroke-width="1.8"/>
<rect x="552.0" y="679.6" width="29.3" height="30.1" fill="#ec3436" stroke="#000" stroke-width="1.8"/>
<rect x="338.0" y="569.0" width="428.0" height="156.7" fill="none" stroke="#000" stroke-width="2.2"/>
<line x1="552.0" y1="569.0" x2="552.0" y2="725.7" stroke="#000" stroke-width="2.2"/>
<line x1="338.0" y1="725.7" x2="338.0" y2="736.7" stroke="#000" stroke-width="2.0"/>
<line x1="359.4" y1="725.7" x2="359.4" y2="731.2" stroke="#000" stroke-width="2.0"/>
<line x1="380.8" y1="725.7" x2="380.8" y2="736.7" stroke="#000" stroke-width="2.0"/>
<line x1="402.2" y1="725.7" x2="402.2" y2="731.2" stroke="#000" stroke-width="2.0"/>
<line x1="423.6" y1="725.7" x2="423.6" y2="736.7" stroke="#000" stroke-width="2.0"/>
<line x1="445.0" y1="725.7" x2="445.0" y2="731.2" stroke="#000" stroke-width="2.0"/>
<line x1="466.4" y1="725.7" x2="466.4" y2="736.7" stroke="#000" stroke-width="2.0"/>
<line x1="487.8" y1="725.7" x2="487.8" y2="731.2" stroke="#000" stroke-width="2.0"/>
<line x1="509.2" y1="725.7" x2="509.2" y2="736.7" stroke="#000" stroke-width="2.0"/>
<line x1="530.6" y1="725.7" x2="530.6" y2="731.2" stroke="#000" stroke-width="2.0"/>
<line x1="552.0" y1="725.7" x2="552.0" y2="736.7" stroke="#000" stroke-width="2.0"/>
<line x1="573.4" y1="725.7" x2="573.4" y2="731.2" stroke="#000" stroke-width="2.0"/>
<line x1="594.8" y1="725.7" x2="594.8" y2="736.7" stroke="#000" stroke-width="2.0"/>
<line x1="616.2" y1="725.7" x2="616.2" y2="731.2" stroke="#000" stroke-width="2.0"/>
<line x1="637.6" y1="725.7" x2="637.6" y2="736.7" stroke="#000" stroke-width="2.0"/>
<line x1="659.0" y1="725.7" x2="659.0" y2="731.2" stroke="#000" stroke-width="2.0"/>
<line x1="680.4" y1="725.7" x2="680.4" y2="736.7" stroke="#000" stroke-width="2.0"/>
<line x1="701.8" y1="725.7" x2="701.8" y2="731.2" stroke="#000" stroke-width="2.0"/>
<line x1="723.2" y1="725.7" x2="723.2" y2="736.7" stroke="#000" stroke-width="2.0"/>
<line x1="744.6" y1="725.7" x2="744.6" y2="731.2" stroke="#000" stroke-width="2.0"/>
<line x1="766.0" y1="725.7" x2="766.0" y2="736.7" stroke="#000" stroke-width="2.0"/>
<text x="338.0" y="760.0" font-size="21.7" text-anchor="middle" fill="#000">100</text>
<text x="380.8" y="760.0" font-size="21.7" text-anchor="middle" fill="#000">80</text>
<text x="423.6" y="760.0" font-size="21.7" text-anchor="middle" fill="#000">60</text>
<text x="466.4" y="760.0" font-size="21.7" text-anchor="middle" fill="#000">40</text>
<text x="509.2" y="760.0" font-size="21.7" text-anchor="middle" fill="#000">20</text>
<text x="552.0" y="760.0" font-size="21.7" text-anchor="middle" fill="#000">0</text>
<text x="594.8" y="760.0" font-size="21.7" text-anchor="middle" fill="#000">20</text>
<text x="637.6" y="760.0" font-size="21.7" text-anchor="middle" fill="#000">40</text>
<text x="680.4" y="760.0" font-size="21.7" text-anchor="middle" fill="#000">60</text>
<text x="723.2" y="760.0" font-size="21.7" text-anchor="middle" fill="#000">80</text>
<text x="766.0" y="760.0" font-size="21.7" text-anchor="middle" fill="#000">100</text>
<text x="552.0" y="793.2" font-size="22.9" font-weight="bold" text-anchor="middle" fill="#000">Proportion of significant correlations (%)</text>
<line x1="326.5" y1="600.1" x2="338.0" y2="600.1" stroke="#000" stroke-width="2.0"/>
<text x="322.3" y="607.4" font-size="21.8" font-weight="bold" text-anchor="end" fill="#000">MitoCarta 3.0</text>
<text x="186.0" y="627.3" font-size="21.6">p ≈ 0</text>
<line x1="326.5" y1="647.1" x2="338.0" y2="647.1" stroke="#000" stroke-width="2.0"/>
<text x="322.3" y="654.2" font-size="21.8" font-weight="bold" text-anchor="end" fill="#000">Metabolic Enzymes</text>
<text x="121.6" y="674.8" font-size="21.6">p = 1.8x10<tspan font-size="12.5" dy="-9">-90</tspan></text>
<line x1="326.5" y1="693.8" x2="338.0" y2="693.8" stroke="#000" stroke-width="2.0"/>
<text x="322.3" y="701.2" font-size="21.8" font-weight="bold" text-anchor="end" fill="#000">Kinases</text>
<text x="209.6" y="721.7" font-size="21.6">p = 2.8x10<tspan font-size="12.5" dy="-9">-41</tspan></text>
<text x="904.0" y="560.7" font-size="22" font-weight="bold" fill="#000">Liver</text>
<rect x="1194.6" y="543.5" width="30.7" height="17.7" fill="#3c5dab" stroke="#000" stroke-width="1.8"/>
<text x="1242.6" y="560.1" font-size="22.9" fill="#000">Negative</text>
<rect x="1452.9" y="543.5" width="30.7" height="17.7" fill="#ec3436" stroke="#000" stroke-width="1.8"/>
<text x="1500.9" y="560.1" font-size="22.9" fill="#000">Positive</text>
<rect x="1235.6" y="587.3" width="149.8" height="30.2" fill="#3c5dab" stroke="#000" stroke-width="1.8"/>
<rect x="1385.4" y="587.3" width="62.9" height="30.2" fill="#ec3436" stroke="#000" stroke-width="1.8"/>
<rect x="1254.9" y="634.3" width="130.5" height="30.2" fill="#3c5dab" stroke="#000" stroke-width="1.8"/>
<rect x="1385.4" y="634.3" width="82.8" height="30.2" fill="#ec3436" stroke="#000" stroke-width="1.8"/>
<rect x="1310.5" y="681.3" width="74.9" height="30.2" fill="#3c5dab" stroke="#000" stroke-width="1.8"/>
<rect x="1385.4" y="681.3" width="138.7" height="30.2" fill="#ec3436" stroke="#000" stroke-width="1.8"/>
<rect x="1171.4" y="571.2" width="428.0" height="156.0" fill="none" stroke="#000" stroke-width="2.2"/>
<line x1="1385.4" y1="571.2" x2="1385.4" y2="727.2" stroke="#000" stroke-width="2.2"/>
<line x1="1171.4" y1="727.2" x2="1171.4" y2="738.2" stroke="#000" stroke-width="2.0"/>
<line x1="1192.8" y1="727.2" x2="1192.8" y2="732.7" stroke="#000" stroke-width="2.0"/>
<line x1="1214.2" y1="727.2" x2="1214.2" y2="738.2" stroke="#000" stroke-width="2.0"/>
<line x1="1235.6" y1="727.2" x2="1235.6" y2="732.7" stroke="#000" stroke-width="2.0"/>
<line x1="1257.0" y1="727.2" x2="1257.0" y2="738.2" stroke="#000" stroke-width="2.0"/>
<line x1="1278.4" y1="727.2" x2="1278.4" y2="732.7" stroke="#000" stroke-width="2.0"/>
<line x1="1299.8" y1="727.2" x2="1299.8" y2="738.2" stroke="#000" stroke-width="2.0"/>
<line x1="1321.2" y1="727.2" x2="1321.2" y2="732.7" stroke="#000" stroke-width="2.0"/>
<line x1="1342.6" y1="727.2" x2="1342.6" y2="738.2" stroke="#000" stroke-width="2.0"/>
<line x1="1364.0" y1="727.2" x2="1364.0" y2="732.7" stroke="#000" stroke-width="2.0"/>
<line x1="1385.4" y1="727.2" x2="1385.4" y2="738.2" stroke="#000" stroke-width="2.0"/>
<line x1="1406.8" y1="727.2" x2="1406.8" y2="732.7" stroke="#000" stroke-width="2.0"/>
<line x1="1428.2" y1="727.2" x2="1428.2" y2="738.2" stroke="#000" stroke-width="2.0"/>
<line x1="1449.6" y1="727.2" x2="1449.6" y2="732.7" stroke="#000" stroke-width="2.0"/>
<line x1="1471.0" y1="727.2" x2="1471.0" y2="738.2" stroke="#000" stroke-width="2.0"/>
<line x1="1492.4" y1="727.2" x2="1492.4" y2="732.7" stroke="#000" stroke-width="2.0"/>
<line x1="1513.8" y1="727.2" x2="1513.8" y2="738.2" stroke="#000" stroke-width="2.0"/>
<line x1="1535.2" y1="727.2" x2="1535.2" y2="732.7" stroke="#000" stroke-width="2.0"/>
<line x1="1556.6" y1="727.2" x2="1556.6" y2="738.2" stroke="#000" stroke-width="2.0"/>
<line x1="1578.0" y1="727.2" x2="1578.0" y2="732.7" stroke="#000" stroke-width="2.0"/>
<line x1="1599.4" y1="727.2" x2="1599.4" y2="738.2" stroke="#000" stroke-width="2.0"/>
<text x="1170.9" y="761.5" font-size="21.7" text-anchor="middle" fill="#000">-100</text>
<text x="1213.7" y="761.5" font-size="21.7" text-anchor="middle" fill="#000">-80</text>
<text x="1256.5" y="761.5" font-size="21.7" text-anchor="middle" fill="#000">-60</text>
<text x="1299.3" y="761.5" font-size="21.7" text-anchor="middle" fill="#000">-40</text>
<text x="1342.1" y="761.5" font-size="21.7" text-anchor="middle" fill="#000">-20</text>
<text x="1385.4" y="761.5" font-size="21.7" text-anchor="middle" fill="#000">0</text>
<text x="1428.2" y="761.5" font-size="21.7" text-anchor="middle" fill="#000">20</text>
<text x="1471.0" y="761.5" font-size="21.7" text-anchor="middle" fill="#000">40</text>
<text x="1513.8" y="761.5" font-size="21.7" text-anchor="middle" fill="#000">60</text>
<text x="1556.6" y="761.5" font-size="21.7" text-anchor="middle" fill="#000">80</text>
<text x="1599.4" y="761.5" font-size="21.7" text-anchor="middle" fill="#000">100</text>
<text x="1385.4" y="797.0" font-size="22.9" font-weight="bold" text-anchor="middle" fill="#000">Proportion of significant correlations (%)</text>
<line x1="1159.9" y1="601.9" x2="1171.4" y2="601.9" stroke="#000" stroke-width="2.0"/>
<text x="1155.3" y="609.3" font-size="21.8" font-weight="bold" text-anchor="end" fill="#000">MitoCarta 3.0</text>
<text x="1019.8" y="628.6" font-size="21.6">p = 7.2x10<tspan font-size="12.5" dy="-9">-111</tspan></text>
<line x1="1159.9" y1="648.8" x2="1171.4" y2="648.8" stroke="#000" stroke-width="2.0"/>
<text x="1155.3" y="656.6" font-size="21.8" font-weight="bold" text-anchor="end" fill="#000">Metabolic Enzymes</text>
<text x="957.4" y="677.0" font-size="21.6">p = 3.1x10<tspan font-size="12.5" dy="-9">-232</tspan></text>
<line x1="1159.9" y1="696.0" x2="1171.4" y2="696.0" stroke="#000" stroke-width="2.0"/>
<text x="1155.3" y="703.0" font-size="21.8" font-weight="bold" text-anchor="end" fill="#000">Kinases</text>
<text x="1073.5" y="721.7" font-size="21.6">p = 0.008</text>
<text x="25.5" y="964.8" font-size="68" font-weight="bold" fill="#000">e</text>
<line x1="115.2" y1="1054.8" x2="115.2" y2="1009.0" stroke="#231f20" stroke-width="4.0"/>
<line x1="115.2" y1="1054.8" x2="77.6" y2="1076.8" stroke="#231f20" stroke-width="4.0"/>
<line x1="115.2" y1="1054.8" x2="153.5" y2="1076.8" stroke="#231f20" stroke-width="4.0"/>
<circle cx="115.2" cy="1054.8" r="11.4" fill="#2c409f"/>
<circle cx="115.2" cy="1009.0" r="11.4" fill="#2c409f"/>
<circle cx="77.6" cy="1076.8" r="11.4" fill="#2c409f"/>
<circle cx="153.5" cy="1076.8" r="11.4" fill="#2c409f"/>
<line x1="310.4" y1="1055.4" x2="310.4" y2="1009.6" stroke="#231f20" stroke-width="4.0"/>
<line x1="310.4" y1="1055.4" x2="272.8" y2="1077.4" stroke="#231f20" stroke-width="4.0"/>
<line x1="310.4" y1="1055.4" x2="348.7" y2="1077.4" stroke="#231f20" stroke-width="4.0"/>
<line x1="348.7" y1="1077.4" x2="387.4" y2="1055.4" stroke="#231f20" stroke-width="4.0"/>
<circle cx="310.4" cy="1055.4" r="11.4" fill="#2c409f"/>
<circle cx="310.4" cy="1009.6" r="11.4" fill="#2c409f"/>
<circle cx="272.8" cy="1077.4" r="11.4" fill="#2c409f"/>
<circle cx="348.7" cy="1077.4" r="11.4" fill="#2c409f"/>
<circle cx="387.4" cy="1055.4" r="11.4" fill="#9c1526"/>
<line x1="539.4" y1="1054.8" x2="539.4" y2="1009.0" stroke="#231f20" stroke-width="4.0"/>
<line x1="539.4" y1="1054.8" x2="501.8" y2="1076.8" stroke="#231f20" stroke-width="4.0"/>
<line x1="539.4" y1="1054.8" x2="577.7" y2="1076.8" stroke="#231f20" stroke-width="4.0"/>
<line x1="577.7" y1="1076.8" x2="616.4" y2="1054.8" stroke="#231f20" stroke-width="4.0"/>
<line x1="616.4" y1="1054.8" x2="616.4" y2="1007.4" stroke="#231f20" stroke-width="4.0"/>
<line x1="616.4" y1="1054.8" x2="655.0" y2="1076.8" stroke="#231f20" stroke-width="4.0"/>
<circle cx="539.4" cy="1054.8" r="11.4" fill="#2c409f"/>
<circle cx="539.4" cy="1009.0" r="11.4" fill="#2c409f"/>
<circle cx="501.8" cy="1076.8" r="11.4" fill="#2c409f"/>
<circle cx="577.7" cy="1076.8" r="11.4" fill="#2c409f"/>
<circle cx="616.4" cy="1054.8" r="11.4" fill="#9c1526"/>
<circle cx="616.4" cy="1007.4" r="11.4" fill="#9c1526"/>
<circle cx="655.0" cy="1076.8" r="11.4" fill="#9c1526"/>
<line x1="179.5" y1="1049.3" x2="250.0" y2="1049.3" stroke="#231f20" stroke-width="1.9"/>
<polygon points="258.0,1049.3 245.5,1042.5 248.4,1049.3 245.5,1056.1" fill="#231f20"/>
<line x1="408.3" y1="1048.2" x2="479.3" y2="1048.2" stroke="#231f20" stroke-width="1.9"/>
<polygon points="487.3,1048.2 474.8,1041.4 477.7,1048.2 474.8,1055.0" fill="#231f20"/>
<path d="M193.1,953.6C194.3,952.8 196.8,951.3 198.6,951.2C200.4,951.2 202.4,953.1 204.0,953.3C205.6,953.4 206.6,952.5 208.1,952.3C209.6,952.0 211.2,951.4 212.9,951.6C214.6,951.8 216.5,953.4 218.3,953.6C220.1,953.8 221.9,953.1 223.8,952.9C225.7,952.8 228.0,952.3 229.9,952.6C231.8,952.9 233.3,953.8 235.4,954.6C237.4,955.4 240.0,956.4 242.2,957.4C244.3,958.3 246.7,959.2 248.3,960.4C249.9,961.6 250.9,962.9 251.7,964.5C252.5,966.1 252.8,967.9 253.1,970.0C253.3,972.0 252.6,974.7 253.1,976.8C253.5,978.8 255.7,980.6 255.8,982.2C255.9,983.8 254.9,985.3 253.7,986.3C252.6,987.3 250.9,987.6 249.0,988.0C247.0,988.4 244.4,988.4 242.2,988.7C239.9,989.0 237.6,989.5 235.4,990.1C233.1,990.6 230.7,991.1 228.5,991.8C226.4,992.4 224.2,993.0 222.4,993.8C220.6,994.6 218.9,995.5 217.7,996.5C216.4,997.5 215.3,998.9 214.9,999.9C214.6,1000.9 214.7,1002.4 215.6,1002.7C216.5,1002.9 218.4,1002.0 220.4,1001.6C222.3,1001.2 225.1,1000.9 227.2,1000.3C229.2,999.6 230.6,998.3 232.6,997.9C234.7,997.4 237.2,997.5 239.4,997.5C241.7,997.5 244.0,997.7 246.3,997.9C248.5,998.1 251.6,998.1 253.1,998.6C254.5,999.0 254.8,999.8 254.8,1000.6C254.8,1001.4 253.1,1002.1 253.1,1003.3C253.1,1004.6 254.7,1006.2 254.8,1008.1C254.9,1010.0 254.3,1012.9 253.7,1014.9C253.2,1017.0 253.0,1018.8 251.7,1020.4C250.5,1021.9 248.3,1023.4 246.3,1024.4C244.2,1025.5 241.8,1026.1 239.4,1026.5C237.1,1026.9 234.2,1026.6 232.0,1026.8C229.7,1027.1 227.8,1027.1 225.8,1027.8C223.9,1028.6 222.2,1030.1 220.4,1031.3C218.6,1032.4 217.0,1033.8 214.9,1034.7C212.9,1035.5 210.4,1036.1 208.1,1036.4C205.8,1036.6 203.5,1036.5 201.3,1036.0C199.2,1035.5 197.0,1034.4 195.2,1033.3C193.4,1032.2 191.7,1030.6 190.4,1029.2C189.2,1027.8 189.0,1026.1 187.7,1025.1C186.3,1024.1 183.8,1024.2 182.2,1023.1C180.7,1021.9 178.9,1019.9 178.2,1018.3C177.4,1016.7 178.6,1014.7 177.5,1013.5C176.3,1012.4 172.9,1012.8 171.3,1011.5C169.8,1010.3 169.1,1007.9 167.9,1006.1C166.8,1004.2 164.8,1002.4 164.5,1000.6C164.3,998.8 165.3,996.9 166.2,995.2C167.1,993.5 169.1,992.3 170.0,990.4C170.8,988.5 170.8,985.6 171.3,983.6C171.9,981.5 171.8,979.5 173.4,978.1C175.0,976.8 179.7,977.0 180.9,975.4C182.0,973.8 179.9,970.8 180.2,968.6C180.5,966.4 181.7,964.1 182.9,962.5C184.2,960.9 186.2,960.1 187.7,959.1C189.2,958.0 190.9,957.3 191.8,956.3C192.7,955.4 192.0,954.5 193.1,953.6Z" fill="#6d7cb5" stroke="#5f6ea9" stroke-width="0.8"/>
<g fill="#7c89b6" fill-opacity="0.85">
<ellipse cx="216.3" cy="970.6" rx="22.5" ry="14.3" transform="rotate(8 216.3 970.6)"/>
<ellipse cx="193.1" cy="967.2" rx="11.6" ry="8.9" transform="rotate(-20 193.1 967.2)"/>
<ellipse cx="187.0" cy="995.8" rx="15.7" ry="11.6" transform="rotate(25 187.0 995.8)"/>
<ellipse cx="177.5" cy="1003.3" rx="9.5" ry="7.5" transform="rotate(0 177.5 1003.3)"/>
<ellipse cx="235.4" cy="1013.5" rx="16.3" ry="10.2" transform="rotate(-8 235.4 1013.5)"/>
<ellipse cx="245.6" cy="972.0" rx="7.5" ry="8.9" transform="rotate(0 245.6 972.0)"/>
<ellipse cx="209.5" cy="1008.8" rx="8.9" ry="4.1" transform="rotate(-10 209.5 1008.8)"/>
<ellipse cx="199.3" cy="1021.7" rx="6.1" ry="3.4" transform="rotate(20 199.3 1021.7)"/>
<ellipse cx="240.1" cy="982.2" rx="10.9" ry="4.1" transform="rotate(-15 240.1 982.2)"/>
</g>
<path d="M387.9,955.2C388.0,953.7 388.7,951.8 390.0,950.4C391.2,949.1 393.5,947.9 395.4,947.0C397.4,946.1 399.7,945.5 401.6,945.0C403.4,944.4 404.6,944.1 406.3,943.6C408.0,943.1 410.0,941.9 411.8,941.9C413.6,941.9 415.5,942.7 417.2,943.6C418.9,944.6 420.4,946.6 422.0,947.7C423.6,948.8 425.4,949.1 426.8,950.4C428.1,951.8 429.3,954.1 430.2,955.9C431.1,957.7 431.2,959.7 432.2,961.3C433.2,962.9 434.7,964.4 436.3,965.4C437.9,966.4 440.3,966.4 441.7,967.5C443.2,968.5 444.2,970.1 445.1,971.5C446.1,973.0 446.2,974.8 447.2,976.3C448.2,977.8 450.1,978.9 451.3,980.4C452.4,981.9 453.3,983.7 454.0,985.2C454.7,986.6 454.0,988.3 455.4,989.2C456.7,990.2 460.1,989.7 462.2,990.6C464.2,991.5 466.3,993.2 467.6,994.7C469.0,996.2 469.3,998.0 470.3,999.5C471.4,1000.9 473.0,1002.1 473.7,1003.5C474.5,1005.0 474.3,1006.7 475.1,1008.3C475.9,1009.9 477.7,1011.5 478.5,1013.1C479.4,1014.7 480.2,1016.1 480.2,1017.8C480.2,1019.6 479.7,1021.9 478.5,1023.3C477.3,1024.7 474.4,1024.9 473.1,1026.0C471.7,1027.2 471.5,1028.9 470.3,1030.1C469.2,1031.4 467.8,1032.8 466.3,1033.5C464.7,1034.2 462.6,1033.6 460.8,1034.2C459.0,1034.8 457.2,1036.3 455.4,1036.9C453.5,1037.5 451.7,1038.2 449.9,1037.9C448.1,1037.7 446.1,1036.3 444.5,1035.6C442.9,1034.8 441.5,1034.6 440.4,1033.5C439.2,1032.4 438.6,1030.3 437.7,1028.7C436.7,1027.2 436.2,1025.3 434.9,1024.0C433.7,1022.6 431.5,1021.9 430.2,1020.6C428.8,1019.2 428.2,1017.2 426.8,1015.8C425.3,1014.4 422.9,1013.8 421.3,1012.4C419.7,1011.0 418.1,1009.2 417.2,1007.6C416.3,1006.0 417.0,1003.9 415.9,1002.9C414.7,1001.8 411.9,1002.5 410.4,1001.5C408.9,1000.5 408.5,998.1 407.0,996.7C405.5,995.4 402.9,994.8 401.6,993.3C400.2,991.9 399.4,989.8 398.8,987.9C398.3,986.0 398.7,983.7 398.2,981.8C397.6,979.8 396.5,977.9 395.4,976.3C394.4,974.7 392.7,973.8 392.0,972.2C391.3,970.6 391.8,968.4 391.3,966.8C390.9,965.2 389.6,963.9 389.3,962.7C389.0,961.4 389.9,960.5 389.6,959.3C389.4,958.0 387.9,956.7 387.9,955.2Z" fill="#588cc6" stroke="#4b7dba" stroke-width="0.8"/>
<g fill="#769dcb" fill-opacity="0.85">
<ellipse cx="398.8" cy="954.5" rx="9.5" ry="7.5" transform="rotate(-20 398.8 954.5)"/>
<ellipse cx="411.1" cy="951.8" rx="8.9" ry="8.2" transform="rotate(0 411.1 951.8)"/>
<ellipse cx="398.2" cy="965.4" rx="7.5" ry="6.8" transform="rotate(0 398.2 965.4)"/>
<ellipse cx="419.9" cy="962.0" rx="7.5" ry="11.6" transform="rotate(20 419.9 962.0)"/>
<ellipse cx="404.3" cy="979.0" rx="6.1" ry="11.6" transform="rotate(-10 404.3 979.0)"/>
<ellipse cx="429.5" cy="973.6" rx="6.8" ry="6.1" transform="rotate(0 429.5 973.6)"/>
<ellipse cx="437.7" cy="974.3" rx="6.1" ry="6.8" transform="rotate(0 437.7 974.3)"/>
<ellipse cx="419.9" cy="980.4" rx="4.1" ry="2.7" transform="rotate(0 419.9 980.4)"/>
<ellipse cx="429.5" cy="1007.6" rx="11.6" ry="7.5" transform="rotate(20 429.5 1007.6)"/>
<ellipse cx="443.8" cy="1011.7" rx="10.2" ry="6.8" transform="rotate(25 443.8 1011.7)"/>
<ellipse cx="460.8" cy="1002.2" rx="8.9" ry="11.6" transform="rotate(-15 460.8 1002.2)"/>
<ellipse cx="471.7" cy="1019.9" rx="6.8" ry="6.8" transform="rotate(0 471.7 1019.9)"/>
<ellipse cx="445.1" cy="1026.7" rx="6.1" ry="6.1" transform="rotate(0 445.1 1026.7)"/>
<ellipse cx="415.9" cy="995.4" rx="5.4" ry="2.7" transform="rotate(-20 415.9 995.4)"/>
<ellipse cx="440.4" cy="991.3" rx="3.4" ry="1.7" transform="rotate(-20 440.4 991.3)"/>
</g>
<text x="200.2" y="1137.0" font-size="26.2" font-weight="bold" fill="#231f20">Pathway-level regulation</text>
<text x="9.0" y="1343.5" font-size="64" font-weight="bold" fill="#000">f</text>
<line x1="119.0" y1="1347.9" x2="119.0" y2="1622.8" stroke="#1a1a1a" stroke-width="1.5"/>
<line x1="118.3" y1="1622.1" x2="295.2" y2="1622.1" stroke="#1a1a1a" stroke-width="1.5"/>
<line x1="115.5" y1="1348.6" x2="119.0" y2="1348.6" stroke="#1a1a1a" stroke-width="1.3"/>
<text x="105.0" y="1356.0" font-size="21" text-anchor="end" fill="#000">25</text>
<line x1="115.5" y1="1401.0" x2="119.0" y2="1401.0" stroke="#1a1a1a" stroke-width="1.3"/>
<text x="105.0" y="1408.4" font-size="21" text-anchor="end" fill="#000">20</text>
<line x1="115.5" y1="1453.3" x2="119.0" y2="1453.3" stroke="#1a1a1a" stroke-width="1.3"/>
<text x="105.0" y="1460.7" font-size="21" text-anchor="end" fill="#000">15</text>
<line x1="115.5" y1="1505.7" x2="119.0" y2="1505.7" stroke="#1a1a1a" stroke-width="1.3"/>
<text x="105.0" y="1513.1" font-size="21" text-anchor="end" fill="#000">10</text>
<line x1="115.5" y1="1558.6" x2="119.0" y2="1558.6" stroke="#1a1a1a" stroke-width="1.3"/>
<text x="105.0" y="1566.0" font-size="21" text-anchor="end" fill="#000">5</text>
<line x1="115.5" y1="1611.0" x2="119.0" y2="1611.0" stroke="#1a1a1a" stroke-width="1.3"/>
<text x="105.0" y="1618.4" font-size="21" text-anchor="end" fill="#000">0</text>
<line x1="169.0" y1="1622.1" x2="169.0" y2="1625.6" stroke="#1a1a1a" stroke-width="1.3"/>
<line x1="244.5" y1="1622.1" x2="244.5" y2="1625.6" stroke="#1a1a1a" stroke-width="1.3"/>
<rect x="144.0" y="1379.5" width="50.8" height="231.5" fill="#c3c4c4"/>
<rect x="219.3" y="1497.9" width="50.5" height="113.1" fill="#9e3f3d"/>
<text x="244.9" y="1483.6" font-size="21.3" text-anchor="middle" letter-spacing="-0.6" fill="#454545">(33 %)</text>
<text x="39.3" y="1494.3" font-size="22" text-anchor="middle" transform="rotate(-90 39.3 1494.3)" fill="#000">Number of Reactome</text>
<text x="67.7" y="1495.5" font-size="22" text-anchor="middle" transform="rotate(-90 67.7 1495.5)" fill="#000">edges (thousands)</text>
<text x="184.5" y="1645.5" font-size="22" text-anchor="end" transform="rotate(-45 184.5 1645.5)" letter-spacing="-0.15" fill="#000">Non-recapitulated</text>
<text x="259.5" y="1645.5" font-size="22" text-anchor="end" transform="rotate(-45 259.5 1645.5)" letter-spacing="-0.15" fill="#000">Recapitulated</text>
<defs><linearGradient id="wg" x1="0" x2="1" y1="0" y2="0"><stop offset="0" stop-color="#fff"/><stop offset="0.35" stop-color="#f0f0f0"/><stop offset="1" stop-color="#e2e3e3"/></linearGradient><clipPath id="netclip"><circle cx="526.7" cy="1492.6" r="152.4"/></clipPath><radialGradient id="netg" cx="0.5" cy="0.5" r="0.5"><stop offset="0" stop-color="#efeff2"/><stop offset="0.8" stop-color="#e9e9ed"/><stop offset="1" stop-color="#e0e0e6"/></radialGradient></defs>
<polygon points="283,1446 359.8,1401.3 359.8,1554.7 283,1508" fill="url(#wg)"/>
<rect x="369.6" y="1337.6" width="312.8" height="312.5" fill="none" stroke="#d9d9d9" stroke-width="4.9" stroke-dasharray="8 6.6"/>
<circle cx="526.7" cy="1492.6" r="152.4" fill="url(#netg)"/>
<g clip-path="url(#netclip)" fill="none">
<path d="M381,1538L679,1493M662,1423L405,1585M374,1485L661,1565M588,1632L474,1349M422,1382L425,1606M653,1578L387,1553M655,1575L609,1365M474,1350L594,1356M678,1476L623,1374M440,1367L529,1645M610,1620L512,1644M377,1466L455,1358M583,1634L375,1510M676,1521L374,1492M385,1548L558,1642M375,1474L629,1605M374,1493L630,1604M380,1533L553,1343M679,1490L649,1402M609,1364L375,1485M466,1632L402,1406M490,1640L385,1548M542,1341L587,1633M614,1367L522,1645M674,1453L516,1341M679,1493L512,1644M656,1411L412,1593M678,1474L405,1584M663,1560L460,1356M554,1343L654,1576M657,1572L381,1538M675,1458L456,1358M639,1596L397,1572M649,1583L531,1645M571,1347L675,1527M385,1437L678,1509M582,1635L637,1387M630,1604L524,1340M640,1594L382,1443M562,1641L376,1467M677,1465L495,1344M476,1636L641,1594M564,1640L419,1385M620,1372L377,1522M650,1582L679,1489M562,1641L375,1476M548,1342L628,1606M483,1639L381,1539M655,1574L443,1365M533,1645L596,1357M421,1603L603,1361M674,1454L383,1543M391,1424L422,1603M589,1632L402,1580M655,1410L450,1361M527,1645L374,1494M517,1341L401,1406M577,1636L668,1549M639,1390L378,1525M392,1565L404,1402M675,1529L657,1413M538,1645L652,1406M520,1645L678,1511M401,1406L664,1427M596,1629L619,1371M665,1556L438,1616M385,1437L441,1619M412,1392L667,1433M659,1417L593,1630M678,1508L453,1626M383,1544L398,1411M595,1629L389,1428M390,1426L550,1342M428,1609L593,1630M678,1474L408,1397M472,1350L518,1645M624,1610L513,1644M678,1510L616,1369M480,1347L391,1423M678,1513L423,1381M375,1510L601,1626M463,1631L553,1643M662,1562L411,1394M514,1341L385,1436M514,1341L402,1581M568,1346L422,1382M436,1615L679,1494M650,1404L481,1347M394,1568L615,1617M626,1377L392,1564M419,1385L676,1521M394,1417L599,1626M660,1566L473,1350M679,1486L574,1348M506,1342L625,1609M512,1341L479,1637M385,1548L561,1641M658,1569L561,1344M676,1521L410,1394M375,1511L539,1341M478,1348L577,1636M412,1392L380,1535M521,1645L429,1610M479,1637L670,1441M571,1638L387,1553M653,1408L378,1459M384,1547L518,1645M456,1628L675,1456M575,1637L431,1374M579,1350L430,1375M638,1388L492,1641M395,1417L666,1432M627,1608L425,1379M606,1362L415,1389M490,1345L391,1423M501,1643L375,1484M382,1539L545,1341M561,1641L433,1372M419,1384L637,1597M466,1632L656,1574M678,1475L384,1545M663,1562L578,1636M633,1383L679,1494M488,1345L512,1644M471,1635L673,1535M678,1511L551,1643M380,1535L389,1427M600,1359L640,1595M623,1611L503,1643M422,1382L657,1571M422,1382L522,1645M580,1350L460,1355M466,1353L669,1438M376,1516L494,1344M679,1503L375,1504M493,1344L673,1450M505,1643L435,1371M477,1348L561,1641M412,1392L460,1630M407,1587L631,1603M653,1408L664,1559M666,1430L411,1394M631,1604L399,1409M419,1384L380,1533M418,1599L666,1430M637,1388L415,1389M670,1440L396,1570M438,1369L657,1413M500,1343L376,1512M431,1374L464,1631M562,1641L675,1528M678,1474L629,1379M378,1458L506,1644M461,1630L615,1617M621,1373L543,1644M659,1568L378,1459M382,1445L510,1644M375,1505L407,1398M582,1351L673,1451M574,1348L675,1526M449,1624L665,1556M623,1610L432,1612M375,1477L576,1637M608,1364L374,1499M670,1442L385,1549M671,1445L641,1593M554,1643L520,1340M489,1640L677,1469M429,1376L611,1620M611,1366L408,1588M469,1634L494,1344M613,1367L453,1359M566,1640L679,1485M676,1463L375,1504M390,1425L601,1360M378,1459L675,1529M406,1399L501,1342M676,1463L375,1509M403,1582L621,1613M386,1434L670,1545M471,1351L608,1364M379,1456L676,1463M674,1452L573,1347M508,1644L524,1340M633,1602L390,1425M588,1353L429,1375M376,1515L599,1358M582,1635L562,1344M663,1424L634,1601M555,1343L646,1398M579,1636L376,1518M468,1352L674,1533M433,1613L672,1448M647,1586L566,1345M636,1599L423,1381M526,1645L374,1487M377,1464L678,1473M418,1600L579,1349M377,1465L531,1340M570,1639L583,1351M428,1376L606,1623M617,1370L384,1547M621,1373L623,1610M518,1340L374,1500M651,1405L523,1645M466,1632L611,1620M557,1642L637,1598M643,1394L655,1575M537,1645L661,1421M518,1645L387,1554M602,1360L509,1644M565,1345L679,1481M402,1580L671,1542M678,1510L502,1643M464,1354L375,1478M676,1463L611,1620M374,1487L560,1641M374,1490L614,1618M584,1634L444,1620M646,1587L544,1644M382,1444L667,1552M388,1429L558,1343M588,1632L383,1544M609,1364L514,1341M663,1425L650,1582M668,1550L663,1425M379,1529L595,1629M456,1628L574,1348M375,1478L674,1454M404,1402L486,1346M481,1347L376,1512M590,1631L433,1373M516,1341L606,1623M578,1636L391,1562M375,1481L416,1388M646,1398L428,1377M484,1346L374,1496M422,1382L671,1542M403,1403L648,1585M678,1476L507,1341M519,1645L655,1575M521,1340L377,1522M587,1353L538,1645M648,1400L483,1347M475,1349L398,1573M541,1341L584,1634M501,1342L635,1385M444,1620L589,1353M679,1503L407,1587M429,1376L537,1645M544,1644L654,1576M450,1361L675,1526M445,1364L559,1642M378,1461L670,1440M679,1492L412,1392M481,1347L397,1572M678,1474L653,1578M413,1392L472,1635M520,1645L459,1356M672,1540L476,1636M418,1600L382,1445M526,1645L661,1565M382,1445L670,1545M676,1461L376,1471M679,1488L407,1398M582,1351L676,1461M402,1405L473,1635M673,1535L646,1398M608,1621L427,1377M601,1626L450,1361M410,1395L531,1340M670,1441L415,1596M376,1467L647,1587M426,1607L473,1350M441,1366L570,1639M495,1642L674,1454M483,1639L402,1580M531,1645L419,1600M611,1619L626,1377M409,1590L563,1641M525,1340L641,1391M679,1482L615,1368M663,1561L651,1404M389,1558L656,1412M677,1467L512,1644M376,1470L418,1599M501,1342L576,1637M678,1472L512,1341M405,1400L567,1346M418,1385L656,1573M570,1639L444,1621M377,1466L502,1342M384,1546L661,1565M380,1535L539,1341M394,1417L678,1509M553,1343L477,1637M679,1490L627,1378M512,1341L678,1514M642,1593L665,1429M559,1344L412,1593M430,1611L457,1357M466,1353L539,1645M399,1410L574,1637M530,1340L679,1495M528,1645L626,1608M658,1416L500,1343M674,1530L588,1632M507,1644L489,1345M418,1386L575,1348M379,1453L476,1349M657,1571L507,1342M382,1445L611,1620M420,1602L621,1373M564,1640L395,1416M522,1340L375,1475M663,1561L511,1644M582,1351L398,1575M545,1341L675,1527M391,1562L506,1342M583,1351L570,1639M440,1367L382,1446M457,1628L627,1378M523,1340L396,1414M390,1560L593,1355M652,1580L650,1403M661,1565L535,1645M387,1433L671,1541M466,1353L678,1514M551,1342L666,1430M562,1641L612,1366M659,1567L392,1564M503,1342L414,1596M495,1642L374,1498M431,1611L674,1531M425,1606L384,1439M488,1345L512,1644M660,1418L550,1342M657,1414L427,1608M577,1349L620,1613M464,1631L514,1341M666,1432L531,1340M528,1645L427,1377M426,1607L531,1340M406,1586L578,1349M578,1636L523,1340M571,1347L453,1626M605,1362L411,1592M595,1629L642,1393M638,1389L570,1639M678,1514L378,1459M380,1451L651,1581M676,1461L397,1412M578,1349L672,1447M381,1448L498,1642M658,1569L531,1645M514,1341L385,1437M658,1570L473,1350M621,1612L611,1365M436,1370L669,1439M555,1642L667,1432M376,1472L540,1644M407,1586L539,1341M676,1462L408,1397M374,1499L677,1515M499,1343L410,1590M658,1415L443,1620M597,1357L379,1529M619,1371L404,1402M603,1361L436,1370M674,1453L389,1427M376,1470L579,1636M576,1348L537,1645M393,1566L425,1379M518,1340L428,1376M419,1600L407,1398M570,1639L432,1373M487,1640L598,1627M669,1548L401,1579M641,1593L512,1341M551,1342L678,1508M668,1551L377,1465M395,1416L395,1570M675,1527L555,1642M588,1632L380,1534M541,1644L656,1412M401,1407L632,1382M587,1632L374,1485M598,1627L638,1389M469,1634L617,1370M589,1354L479,1637M517,1645L663,1561M658,1414L492,1641M381,1448L395,1568M375,1509L533,1340M672,1539L656,1412M575,1348L566,1640M377,1466L674,1531M503,1643L599,1627M443,1365L670,1441M679,1503L375,1503M421,1603L643,1591M492,1344L480,1638M611,1620L416,1597M460,1630L420,1383M630,1381L414,1595M427,1377L378,1459M511,1644L569,1346M616,1616L631,1381M679,1494L538,1341M613,1367L407,1398M659,1568L406,1585M495,1344L645,1396M375,1512L673,1450M673,1451L376,1468M622,1374L575,1637M564,1345L553,1643M659,1416L657,1571M597,1357L655,1575M380,1452L667,1552M610,1620L663,1424" stroke="#8f91a3" stroke-opacity="0.13" stroke-width="0.6"/>
<path d="M386,1434L665,1428M386,1434L539,1341M388,1430L674,1532M388,1431L675,1459M386,1433L559,1344M389,1428L675,1528M387,1431L479,1637M386,1433L495,1343M386,1434L560,1641M387,1432L644,1590M389,1428L494,1344M386,1435L499,1643M386,1434L618,1615M387,1432L677,1470M386,1433L661,1420M387,1431L679,1481M378,1461L626,1377M378,1460L572,1638M378,1458L434,1614M378,1460L577,1636M377,1462L508,1644M377,1462L555,1343M379,1456L606,1623M378,1459L581,1350M378,1457L501,1643M378,1461L521,1340M378,1461L566,1345M377,1462L676,1464M378,1459L448,1623M379,1457L673,1535M379,1455L549,1643M378,1460L673,1450M616,1616L399,1410M611,1619L395,1416M611,1620L679,1491M612,1619L545,1341M614,1617L470,1634M612,1619L380,1453M614,1618L420,1601M611,1620L446,1363M612,1619L642,1393M611,1620L398,1574M612,1619L669,1438M613,1618L382,1446M611,1619L404,1583M613,1618L679,1494M610,1620L581,1350M609,1621L386,1550M672,1538L431,1374M672,1538L523,1645M671,1542L407,1399M670,1544L389,1558M671,1540L381,1538M670,1545L496,1642M670,1544L488,1640M671,1541L394,1418M672,1538L400,1408M670,1545L611,1365M671,1541L553,1342M670,1543L497,1642M670,1544L403,1582M671,1541L425,1606M672,1538L562,1344M673,1537L396,1415M484,1346L634,1384M491,1344L384,1440M485,1346L461,1630M489,1345L453,1626M488,1345L635,1600M483,1347L391,1562M487,1345L679,1487M486,1346L673,1449M484,1346L519,1645M485,1346L553,1643M486,1346L520,1645M483,1347L471,1635M484,1346L453,1626M488,1345L378,1458M486,1346L586,1633M489,1345L483,1639M670,1442L421,1383M671,1444L387,1554M671,1443L466,1353M669,1439L416,1598M671,1443L375,1501M670,1440L379,1528M671,1443L406,1586M668,1436L465,1632M671,1443L406,1399M670,1441L409,1396M669,1438L418,1386M668,1436L375,1483M670,1439L595,1629M669,1439L383,1544M670,1442L635,1600M669,1438L379,1528M424,1605L509,1341M426,1607L462,1354M420,1601L606,1623M420,1602L679,1481M421,1602L586,1352M421,1603L454,1359M420,1602L659,1417M421,1602L394,1417M423,1604L404,1402M426,1607L582,1635M424,1605L468,1352M426,1607L521,1340M421,1602L615,1617M424,1605L570,1347M426,1607L665,1428M420,1602L378,1460" stroke="#85889c" stroke-opacity="0.2" stroke-width="0.7"/>
<path d="M501.8,1340.7L666.5,1430.3M501.8,1340.7L525,1560M386,1470L560,1640M420,1596L600,1640M610,1645L666,1432M640,1395L470,1360M380,1520L670,1560" stroke="#8d8fa6" stroke-opacity="0.4" stroke-width="0.8"/>
<path d="M418.8,1596.5L666.5,1430.3" stroke="#b98d94" stroke-opacity="0.9" stroke-width="1.2"/>
<circle cx="398" cy="1404" r="14" fill="#4a5068" fill-opacity="0.13"/><circle cx="611" cy="1621" r="10" fill="#4a5068" fill-opacity="0.12"/>
</g>
<line x1="401.7" y1="1721.6" x2="458.5" y2="1721.6" stroke="#231f20" stroke-width="1.6"/>
<text x="487.0" y="1725.9" font-size="21" letter-spacing="-0.48" fill="#414042">BAT correlation</text>
<line x1="402.5" y1="1750.6" x2="453.5" y2="1750.6" stroke="#231f20" stroke-width="1.6" stroke-dasharray="8.5 5.7"/>
<text x="478.0" y="1755.2" font-size="21" letter-spacing="-0.48" fill="#414042">Liver correlation</text>
<line x1="37.6" y1="1787.3" x2="95.2" y2="1787.3" stroke="#9b2335" stroke-width="1.5"/>
<text x="122.6" y="1792.2" font-size="21" letter-spacing="-0.48" fill="#414042">Reactome edge recapitulated as significant positive correlation</text>
<line x1="37.6" y1="1819.2" x2="95.2" y2="1819.2" stroke="#2b4ba0" stroke-width="1.5"/>
<text x="122.6" y="1827.4" font-size="21" letter-spacing="-0.48" fill="#414042">Reactome edge recapitulated as significant negative correlation</text>
<line x1="37.6" y1="1853.8" x2="95.2" y2="1853.8" stroke="#b9bcbe" stroke-width="1.5"/>
<text x="122.6" y="1862.3" font-size="21" letter-spacing="-0.48" fill="#414042">Reactome edge not recapitulated</text>
<text x="16.2" y="2007.3" font-size="66.5" font-weight="bold" fill="#000">g</text>
<text x="100.4" y="2005.2" font-size="21" letter-spacing="-0.45" fill="#414042">BAT</text>
<text x="100.4" y="2030.6" font-size="21" letter-spacing="-0.47" fill="#414042">p enrich. = 3.06e-86</text>
<text x="338.8" y="2005.2" font-size="21" letter-spacing="-0.45" fill="#414042">Liver</text>
<text x="338.8" y="2030.6" font-size="21" letter-spacing="-0.47" fill="#414042">p enrich. = 1.09 e-26</text>
<line x1="127.1" y1="2068.7" x2="127.1" y2="2344.0" stroke="#1a1a1a" stroke-width="1.5"/>
<line x1="126.4" y1="2343.3" x2="256.8" y2="2343.3" stroke="#1a1a1a" stroke-width="1.5"/>
<line x1="123.6" y1="2080.8" x2="127.1" y2="2080.8" stroke="#1a1a1a" stroke-width="1.3"/>
<text x="122.3" y="2088.2" font-size="21" text-anchor="end" fill="#000">15</text>
<line x1="123.6" y1="2164.1" x2="127.1" y2="2164.1" stroke="#1a1a1a" stroke-width="1.3"/>
<text x="122.3" y="2171.5" font-size="21" text-anchor="end" fill="#000">10</text>
<line x1="123.6" y1="2247.3" x2="127.1" y2="2247.3" stroke="#1a1a1a" stroke-width="1.3"/>
<text x="122.3" y="2254.7" font-size="21" text-anchor="end" fill="#000">5</text>
<line x1="123.6" y1="2330.3" x2="127.1" y2="2330.3" stroke="#1a1a1a" stroke-width="1.3"/>
<text x="122.3" y="2337.7" font-size="21" text-anchor="end" fill="#000">0</text>
<line x1="162.4" y1="2343.3" x2="162.4" y2="2346.8" stroke="#1a1a1a" stroke-width="1.3"/>
<line x1="220.9" y1="2343.3" x2="220.9" y2="2346.8" stroke="#1a1a1a" stroke-width="1.3"/>
<rect x="136.0" y="2084.9" width="53.1" height="245.4" fill="#b3b6b6"/>
<rect x="194.5" y="2160.3" width="53.1" height="170.0" fill="#9e3f3c"/>
<text x="225.0" y="2148.2" font-size="21.3" text-anchor="middle" letter-spacing="-0.6" fill="#454545">(40 %)</text>
<text x="54.6" y="2207.3" font-size="21.8" text-anchor="middle" transform="rotate(-90 54.6 2207.3)" fill="#000">Number of Reactome</text>
<text x="83.2" y="2215.0" font-size="21.8" text-anchor="middle" transform="rotate(-90 83.2 2215.0)" fill="#000">edges (thousands)</text>
<text x="166.0" y="2363.0" font-size="22" text-anchor="end" transform="rotate(-45 166.0 2363.0)" letter-spacing="-0.15" fill="#000">Non-recapitulated</text>
<text x="240.0" y="2361.0" font-size="22" text-anchor="end" transform="rotate(-45 240.0 2361.0)" letter-spacing="-0.15" fill="#000">Recapitulated</text>
<line x1="372.5" y1="2068.7" x2="372.5" y2="2344.0" stroke="#1a1a1a" stroke-width="1.5"/>
<line x1="371.8" y1="2343.3" x2="511.7" y2="2343.3" stroke="#1a1a1a" stroke-width="1.5"/>
<line x1="369.0" y1="2083.0" x2="372.5" y2="2083.0" stroke="#1a1a1a" stroke-width="1.3"/>
<text x="368.3" y="2090.4" font-size="21" text-anchor="end" fill="#000">20</text>
<line x1="369.0" y1="2206.3" x2="372.5" y2="2206.3" stroke="#1a1a1a" stroke-width="1.3"/>
<text x="368.3" y="2213.7" font-size="21" text-anchor="end" fill="#000">10</text>
<line x1="369.0" y1="2330.0" x2="372.5" y2="2330.0" stroke="#1a1a1a" stroke-width="1.3"/>
<text x="368.3" y="2337.4" font-size="21" text-anchor="end" fill="#000">0</text>
<line x1="370.5" y1="2144.7" x2="372.5" y2="2144.7" stroke="#1a1a1a" stroke-width="1.0"/>
<line x1="370.5" y1="2268.3" x2="372.5" y2="2268.3" stroke="#1a1a1a" stroke-width="1.0"/>
<line x1="410.6" y1="2343.3" x2="410.6" y2="2346.8" stroke="#1a1a1a" stroke-width="1.3"/>
<line x1="473.5" y1="2343.3" x2="473.5" y2="2346.8" stroke="#1a1a1a" stroke-width="1.3"/>
<rect x="382.3" y="2095.4" width="56.9" height="234.9" fill="#b3b6b6"/>
<rect x="444.9" y="2310.3" width="57.2" height="20.0" fill="#9e3f3c"/>
<text x="475.5" y="2300.7" font-size="21.3" text-anchor="middle" letter-spacing="-0.6" fill="#454545">(8 %)</text>
<text x="308.8" y="2207.8" font-size="21.8" text-anchor="middle" transform="rotate(-90 308.8 2207.8)" fill="#000">Number of reactome</text>
<text x="337.4" y="2210.0" font-size="21.8" text-anchor="middle" transform="rotate(-90 337.4 2210.0)" fill="#000">edges (thousands)</text>
<text x="418.6" y="2363.0" font-size="22" text-anchor="end" transform="rotate(-45 418.6 2363.0)" letter-spacing="-0.15" fill="#000">Non-recapitulated</text>
<text x="491.0" y="2361.0" font-size="22" text-anchor="end" transform="rotate(-45 491.0 2361.0)" letter-spacing="-0.15" fill="#000">Recapitulated</text>
<text x="720.8" y="971.6" font-size="65.6" font-weight="bold" fill="#000">h</text>
<text x="960.8" y="939.7" font-size="21.8" font-weight="bold" text-anchor="middle" fill="#c41e3a">Citrate/Isocitrate</text>
<circle cx="963.5" cy="1175.8" r="111.0" fill="none" stroke="#231f20" stroke-width="2.6"/>
<path d="M938.3,1019.5v12c0,16 3,24 13,32" fill="none" stroke="#231f20" stroke-width="2.3"/>
<circle cx="827.0" cy="988.0" r="18.8" fill="#7081c5" stroke="#231f20" stroke-width="2.8"/>
<circle cx="827.6" cy="1031.4" r="18.8" fill="#f5a390" stroke="#231f20" stroke-width="2.8"/>
<circle cx="884.4" cy="1006.4" r="18.8" fill="#f2937e" stroke="#231f20" stroke-width="2.8"/>
<circle cx="1088.7" cy="988.8" r="18.8" fill="#f8b5a4" stroke="#231f20" stroke-width="2.8"/>
<circle cx="968.1" cy="1066.3" r="18.8" fill="#f8b2a1" stroke="#231f20" stroke-width="2.8"/>
<circle cx="893.7" cy="1092.4" r="18.8" fill="#f9bcae" stroke="#231f20" stroke-width="2.8"/>
<circle cx="859.7" cy="1147.2" r="18.8" fill="#f9bcae" stroke="#231f20" stroke-width="2.8"/>
<circle cx="1040.4" cy="1094.4" r="18.8" fill="#f5a593" stroke="#231f20" stroke-width="2.8"/>
<circle cx="1047.5" cy="1154.9" r="19.0" fill="#6d6e70" stroke="#a9abae" stroke-width="2.6"/>
<circle cx="1083.6" cy="1136.4" r="10.5" fill="#f5a391" stroke="#231f20" stroke-width="2.3"/>
<circle cx="1107.7" cy="1143.5" r="10.5" fill="#f4998a" stroke="#231f20" stroke-width="2.3"/>
<circle cx="1088.7" cy="1160.5" r="10.5" fill="#f7ac9c" stroke="#231f20" stroke-width="2.3"/>
<circle cx="1048.4" cy="1221.6" r="10.5" fill="#f7ac9c" stroke="#231f20" stroke-width="2.3"/>
<circle cx="1080.2" cy="1224.4" r="10.5" fill="#f7a897" stroke="#231f20" stroke-width="2.3"/>
<circle cx="1067.7" cy="1247.1" r="10.5" fill="#f2917e" stroke="#231f20" stroke-width="2.3"/>
<circle cx="959.6" cy="1271.8" r="10.5" fill="#f4998a" stroke="#231f20" stroke-width="2.3"/>
<circle cx="942.5" cy="1299.6" r="10.5" fill="#f5a391" stroke="#231f20" stroke-width="2.3"/>
<circle cx="970.3" cy="1300.5" r="10.5" fill="#f4998a" stroke="#231f20" stroke-width="2.3"/>
<circle cx="875.0" cy="1210.2" r="10.5" fill="#f2917e" stroke="#231f20" stroke-width="2.3"/>
<circle cx="886.3" cy="1231.5" r="10.5" fill="#f5a391" stroke="#231f20" stroke-width="2.3"/>
<circle cx="848.0" cy="1222.1" r="10.5" fill="#f2917e" stroke="#231f20" stroke-width="2.3"/>
<circle cx="859.7" cy="1245.7" r="10.5" fill="#f08a78" stroke="#231f20" stroke-width="2.3"/>
<polygon points="1005.2,1056.6 1010.5,1067.3 1022.2,1069.0 1013.7,1077.3 1015.7,1089.0 1005.2,1083.5 994.7,1089.0 996.7,1077.3 988.2,1069.0 999.9,1067.3" fill="#c41e3a" stroke="#c41e3a" stroke-width="0.8" stroke-linejoin="round"/>
<polygon points="1059.7,1104.3 1065.0,1115.0 1076.7,1116.7 1068.2,1125.0 1070.2,1136.7 1059.7,1131.2 1049.2,1136.7 1051.2,1125.0 1042.7,1116.7 1054.4,1115.0" fill="#c41e3a" stroke="#c41e3a" stroke-width="0.8" stroke-linejoin="round"/>
<text x="749.9" y="993.9" font-size="21.2" font-weight="bold" fill="#231f20" stroke="#231f20" stroke-width="0.35">ME2</text>
<text x="749.9" y="1038.5" font-size="21.2" font-weight="bold" fill="#231f20" stroke="#231f20" stroke-width="0.35">ME3</text>
<text x="868.2" y="981.1" font-size="21.2" font-weight="bold" fill="#231f20" stroke="#231f20" stroke-width="0.35">FAHD1</text>
<text x="1011.6" y="995.3" font-size="21.2" font-weight="bold" fill="#231f20" stroke="#231f20" stroke-width="0.35">NNT</text>
<text x="981.2" y="1054.1" font-size="21.2" font-weight="bold" fill="#231f20" stroke="#231f20" stroke-width="0.35">CS</text>
<text x="1045.3" y="1073.4" font-size="21.2" font-weight="bold" fill="#231f20" stroke="#231f20" stroke-width="0.35">ACO2</text>
<text x="854.1" y="1066.8" font-size="21.2" font-weight="bold" fill="#231f20" stroke="#231f20" stroke-width="0.35">MDH2</text>
<text x="820.0" y="1123.0" font-size="21.2" font-weight="bold" fill="#231f20" stroke="#231f20" stroke-width="0.35">FH</text>
<text x="1076.8" y="1121.6" font-size="22" letter-spacing="-0.2" fill="#231f20">IDH3A</text>
<text x="1118.6" y="1140.6" font-size="22" letter-spacing="-0.2" fill="#231f20">IDH3B</text>
<text x="1131.3" y="1165.6" font-size="21.2" font-weight="bold" fill="#231f20" stroke="#231f20" stroke-width="0.35">IDH3</text>
<text x="1082.5" y="1189.7" font-size="22" letter-spacing="-0.2" fill="#231f20">IDH3G</text>
<text x="964.7" y="1160.5" font-size="22" letter-spacing="-0.2" fill="#231f20">IDH2</text>
<text x="985.5" y="1208.2" font-size="22" letter-spacing="-0.2" fill="#231f20">OGDH</text>
<text x="1092.4" y="1218.1" font-size="22" letter-spacing="-0.2" fill="#231f20">DLD</text>
<text x="1102.4" y="1250.7" font-size="21.2" font-weight="bold" fill="#231f20" stroke="#231f20" stroke-width="0.35">aKGDH</text>
<text x="1047.9" y="1276.3" font-size="22" letter-spacing="-0.2" fill="#231f20">DLST</text>
<text x="920.8" y="1258.4" font-size="22" letter-spacing="-0.2" fill="#231f20">SUCLA2</text>
<text x="840.4" y="1306.9" font-size="22" letter-spacing="-0.2" fill="#231f20">SUCLG1</text>
<text x="986.0" y="1306.9" font-size="22" letter-spacing="-0.2" fill="#231f20">SUCLG2</text>
<text x="927.8" y="1335.9" font-size="21.2" font-weight="bold" fill="#231f20" stroke="#231f20" stroke-width="0.35">SUCL</text>
<text x="866.0" y="1196.8" font-size="22" letter-spacing="-0.2" fill="#231f20">SDHA</text>
<text x="889.5" y="1220.9" font-size="22" letter-spacing="-0.2" fill="#231f20">SDHB</text>
<text x="788.2" y="1210.8" font-size="22" letter-spacing="-0.2" fill="#231f20">SDHC</text>
<text x="780.8" y="1247.9" font-size="21.2" font-weight="bold" fill="#231f20" stroke="#231f20" stroke-width="0.35">SDH</text>
<text x="826.5" y="1276.3" font-size="22" letter-spacing="-0.2" fill="#231f20">SDHD</text>
<text x="1453.3" y="939.2" font-size="21.8" font-weight="bold" text-anchor="middle" fill="#c41e3a">Fumarate</text>
<circle cx="1455.1" cy="1172.1" r="111.0" fill="none" stroke="#231f20" stroke-width="2.6"/>
<path d="M1429.9,1015.8v12c0,16 3,24 13,32" fill="none" stroke="#231f20" stroke-width="2.3"/>
<circle cx="1318.6" cy="984.3" r="18.8" fill="#4a69b7" stroke="#231f20" stroke-width="2.8"/>
<circle cx="1319.2" cy="1027.7" r="18.8" fill="#f4998a" stroke="#231f20" stroke-width="2.8"/>
<circle cx="1376.0" cy="1002.7" r="18.8" fill="#f28e7c" stroke="#231f20" stroke-width="2.8"/>
<circle cx="1580.3" cy="985.1" r="19.0" fill="#6d6e70" stroke="#a9abae" stroke-width="2.6"/>
<circle cx="1459.7" cy="1062.6" r="18.8" fill="#f5a291" stroke="#231f20" stroke-width="2.8"/>
<circle cx="1385.3" cy="1088.7" r="18.8" fill="#f9b9ab" stroke="#231f20" stroke-width="2.8"/>
<circle cx="1351.3" cy="1143.5" r="18.8" fill="#f9bfb2" stroke="#231f20" stroke-width="2.8"/>
<circle cx="1532.0" cy="1090.7" r="18.8" fill="#f5a291" stroke="#231f20" stroke-width="2.8"/>
<circle cx="1539.1" cy="1151.2" r="19.0" fill="#6d6e70" stroke="#a9abae" stroke-width="2.6"/>
<circle cx="1575.2" cy="1132.7" r="10.5" fill="#f4978a" stroke="#231f20" stroke-width="2.3"/>
<circle cx="1599.3" cy="1139.8" r="10.5" fill="#f5a090" stroke="#231f20" stroke-width="2.3"/>
<circle cx="1580.3" cy="1156.8" r="10.5" fill="#f5a090" stroke="#231f20" stroke-width="2.3"/>
<circle cx="1540.0" cy="1217.9" r="10.5" fill="#f7aa9a" stroke="#231f20" stroke-width="2.3"/>
<circle cx="1571.8" cy="1220.7" r="10.5" fill="#f8b0a0" stroke="#231f20" stroke-width="2.3"/>
<circle cx="1559.3" cy="1243.4" r="10.5" fill="#f28e7c" stroke="#231f20" stroke-width="2.3"/>
<circle cx="1451.2" cy="1268.1" r="10.5" fill="#f28e7c" stroke="#231f20" stroke-width="2.3"/>
<circle cx="1434.1" cy="1295.9" r="10.5" fill="#f08573" stroke="#231f20" stroke-width="2.3"/>
<circle cx="1461.9" cy="1296.8" r="10.5" fill="#f9b5a6" stroke="#231f20" stroke-width="2.3"/>
<circle cx="1366.6" cy="1206.5" r="10.5" fill="#f5a090" stroke="#231f20" stroke-width="2.3"/>
<circle cx="1377.9" cy="1227.8" r="10.5" fill="#f5a090" stroke="#231f20" stroke-width="2.3"/>
<circle cx="1339.6" cy="1218.4" r="10.5" fill="#f28e7c" stroke="#231f20" stroke-width="2.3"/>
<circle cx="1351.3" cy="1242.0" r="10.5" fill="#f28e7c" stroke="#231f20" stroke-width="2.3"/>
<polygon points="1347.0,1164.5 1352.3,1175.2 1364.0,1176.9 1355.5,1185.2 1357.5,1196.9 1347.0,1191.3 1336.5,1196.9 1338.5,1185.2 1330.0,1176.9 1341.7,1175.2" fill="#c41e3a" stroke="#c41e3a" stroke-width="0.8" stroke-linejoin="round"/>
<text x="1242.0" y="989.4" font-size="21.2" font-weight="bold" fill="#231f20" stroke="#231f20" stroke-width="0.35">ME2</text>
<text x="1242.0" y="1034.0" font-size="21.2" font-weight="bold" fill="#231f20" stroke="#231f20" stroke-width="0.35">ME3</text>
<text x="1360.3" y="976.6" font-size="21.2" font-weight="bold" fill="#231f20" stroke="#231f20" stroke-width="0.35">FAHD1</text>
<text x="1503.7" y="990.8" font-size="21.2" font-weight="bold" fill="#231f20" stroke="#231f20" stroke-width="0.35">NNT</text>
<text x="1486.1" y="1051.8" font-size="21.2" font-weight="bold" fill="#231f20" stroke="#231f20" stroke-width="0.35">CS</text>
<text x="1558.2" y="1069.7" font-size="21.2" font-weight="bold" fill="#231f20" stroke="#231f20" stroke-width="0.35">ACO2</text>
<text x="1346.2" y="1062.3" font-size="21.2" font-weight="bold" fill="#231f20" stroke="#231f20" stroke-width="0.35">MDH2</text>
<text x="1312.1" y="1118.5" font-size="21.2" font-weight="bold" fill="#231f20" stroke="#231f20" stroke-width="0.35">FH</text>
<text x="1568.9" y="1117.1" font-size="22" letter-spacing="-0.2" fill="#231f20">IDH3A</text>
<text x="1610.7" y="1136.1" font-size="22" letter-spacing="-0.2" fill="#231f20">IDH3B</text>
<text x="1623.4" y="1161.1" font-size="21.2" font-weight="bold" fill="#231f20" stroke="#231f20" stroke-width="0.35">IDH3</text>
<text x="1574.6" y="1185.2" font-size="22" letter-spacing="-0.2" fill="#231f20">IDH3G</text>
<text x="1456.8" y="1156.0" font-size="22" letter-spacing="-0.2" fill="#231f20">IDH2</text>
<text x="1477.6" y="1203.7" font-size="22" letter-spacing="-0.2" fill="#231f20">OGDH</text>
<text x="1584.5" y="1213.6" font-size="22" letter-spacing="-0.2" fill="#231f20">DLD</text>
<text x="1594.5" y="1246.2" font-size="21.2" font-weight="bold" fill="#231f20" stroke="#231f20" stroke-width="0.35">aKGDH</text>
<text x="1540.0" y="1271.8" font-size="22" letter-spacing="-0.2" fill="#231f20">DLST</text>
<text x="1412.9" y="1253.9" font-size="22" letter-spacing="-0.2" fill="#231f20">SUCLA2</text>
<text x="1332.5" y="1302.4" font-size="22" letter-spacing="-0.2" fill="#231f20">SUCLG1</text>
<text x="1478.1" y="1302.4" font-size="22" letter-spacing="-0.2" fill="#231f20">SUCLG2</text>
<text x="1419.9" y="1331.4" font-size="21.2" font-weight="bold" fill="#231f20" stroke="#231f20" stroke-width="0.35">SUCL</text>
<text x="1366.0" y="1192.3" font-size="22" letter-spacing="-0.2" fill="#231f20">SDHA</text>
<text x="1381.6" y="1216.4" font-size="22" letter-spacing="-0.2" fill="#231f20">SDHB</text>
<text x="1273.8" y="1206.5" font-size="22" letter-spacing="-0.2" fill="#231f20">SDHC</text>
<text x="1272.9" y="1243.4" font-size="21.2" font-weight="bold" fill="#231f20" stroke="#231f20" stroke-width="0.35">SDH</text>
<text x="1318.6" y="1271.8" font-size="22" letter-spacing="-0.2" fill="#231f20">SDHD</text>
<text x="1941.7" y="939.2" font-size="21.8" font-weight="bold" text-anchor="middle" fill="#c41e3a">Malate</text>
<circle cx="1943.8" cy="1172.1" r="111.0" fill="none" stroke="#231f20" stroke-width="2.6"/>
<path d="M1918.6,1015.8v12c0,16 3,24 13,32" fill="none" stroke="#231f20" stroke-width="2.3"/>
<circle cx="1807.3" cy="984.3" r="18.8" fill="#4463b5" stroke="#231f20" stroke-width="2.8"/>
<circle cx="1807.9" cy="1027.7" r="18.8" fill="#f4998a" stroke="#231f20" stroke-width="2.8"/>
<circle cx="1864.7" cy="1002.7" r="18.8" fill="#f2907e" stroke="#231f20" stroke-width="2.8"/>
<circle cx="2069.0" cy="985.1" r="19.0" fill="#6d6e70" stroke="#a9abae" stroke-width="2.6"/>
<circle cx="1948.4" cy="1062.6" r="18.8" fill="#f7ab9b" stroke="#231f20" stroke-width="2.8"/>
<circle cx="1877.6" cy="1083.9" r="19.0" fill="#6d6e70" stroke="#a9abae" stroke-width="2.6"/>
<circle cx="1840.0" cy="1143.5" r="19.0" fill="#6d6e70" stroke="#a9abae" stroke-width="2.6"/>
<circle cx="2020.7" cy="1090.7" r="18.8" fill="#f7a896" stroke="#231f20" stroke-width="2.8"/>
<circle cx="2027.8" cy="1151.2" r="19.0" fill="#6d6e70" stroke="#a9abae" stroke-width="2.6"/>
<circle cx="2063.9" cy="1132.7" r="10.5" fill="#f4978a" stroke="#231f20" stroke-width="2.3"/>
<circle cx="2088.0" cy="1139.8" r="10.5" fill="#f5a090" stroke="#231f20" stroke-width="2.3"/>
<circle cx="2069.0" cy="1156.8" r="10.5" fill="#f5a090" stroke="#231f20" stroke-width="2.3"/>
<circle cx="2028.7" cy="1217.9" r="10.5" fill="#f7aa9a" stroke="#231f20" stroke-width="2.3"/>
<circle cx="2060.5" cy="1220.7" r="10.5" fill="#f7aa9a" stroke="#231f20" stroke-width="2.3"/>
<circle cx="2048.0" cy="1243.4" r="10.5" fill="#f28e7c" stroke="#231f20" stroke-width="2.3"/>
<circle cx="1939.9" cy="1268.1" r="10.5" fill="#f28e7c" stroke="#231f20" stroke-width="2.3"/>
<circle cx="1922.8" cy="1295.9" r="10.5" fill="#f08573" stroke="#231f20" stroke-width="2.3"/>
<circle cx="1950.6" cy="1296.8" r="10.5" fill="#f9b5a6" stroke="#231f20" stroke-width="2.3"/>
<circle cx="1855.3" cy="1206.5" r="10.5" fill="#f5a090" stroke="#231f20" stroke-width="2.3"/>
<circle cx="1866.6" cy="1227.8" r="10.5" fill="#f7aa9a" stroke="#231f20" stroke-width="2.3"/>
<circle cx="1828.3" cy="1218.4" r="10.5" fill="#f28e7c" stroke="#231f20" stroke-width="2.3"/>
<circle cx="1840.0" cy="1242.0" r="10.5" fill="#f28e7c" stroke="#231f20" stroke-width="2.3"/>
<polygon points="1855.4,1092.1 1860.7,1102.8 1872.4,1104.5 1863.9,1112.8 1865.9,1124.5 1855.4,1119.0 1844.9,1124.5 1846.9,1112.8 1838.4,1104.5 1850.1,1102.8" fill="#c41e3a" stroke="#c41e3a" stroke-width="0.8" stroke-linejoin="round"/>
<text x="1730.7" y="989.4" font-size="21.2" font-weight="bold" fill="#231f20" stroke="#231f20" stroke-width="0.35">ME2</text>
<text x="1730.7" y="1034.0" font-size="21.2" font-weight="bold" fill="#231f20" stroke="#231f20" stroke-width="0.35">ME3</text>
<text x="1849.0" y="976.6" font-size="21.2" font-weight="bold" fill="#231f20" stroke="#231f20" stroke-width="0.35">FAHD1</text>
<text x="1992.4" y="990.8" font-size="21.2" font-weight="bold" fill="#231f20" stroke="#231f20" stroke-width="0.35">NNT</text>
<text x="1974.8" y="1051.8" font-size="21.2" font-weight="bold" fill="#231f20" stroke="#231f20" stroke-width="0.35">CS</text>
<text x="2046.9" y="1069.7" font-size="21.2" font-weight="bold" fill="#231f20" stroke="#231f20" stroke-width="0.35">ACO2</text>
<text x="1834.9" y="1062.3" font-size="21.2" font-weight="bold" fill="#231f20" stroke="#231f20" stroke-width="0.35">MDH2</text>
<text x="1800.8" y="1118.5" font-size="21.2" font-weight="bold" fill="#231f20" stroke="#231f20" stroke-width="0.35">FH</text>
<text x="2057.6" y="1117.1" font-size="22" letter-spacing="-0.2" fill="#231f20">IDH3A</text>
<text x="2099.4" y="1136.1" font-size="22" letter-spacing="-0.2" fill="#231f20">IDH3B</text>
<text x="2112.1" y="1161.1" font-size="21.2" font-weight="bold" fill="#231f20" stroke="#231f20" stroke-width="0.35">IDH3</text>
<text x="2063.3" y="1185.2" font-size="22" letter-spacing="-0.2" fill="#231f20">IDH3G</text>
<text x="1945.5" y="1156.0" font-size="22" letter-spacing="-0.2" fill="#231f20">IDH2</text>
<text x="1966.3" y="1203.7" font-size="22" letter-spacing="-0.2" fill="#231f20">OGDH</text>
<text x="2073.2" y="1213.6" font-size="22" letter-spacing="-0.2" fill="#231f20">DLD</text>
<text x="2083.2" y="1246.2" font-size="21.2" font-weight="bold" fill="#231f20" stroke="#231f20" stroke-width="0.35">aKGDH</text>
<text x="2028.7" y="1271.8" font-size="22" letter-spacing="-0.2" fill="#231f20">DLST</text>
<text x="1901.6" y="1253.9" font-size="22" letter-spacing="-0.2" fill="#231f20">SUCLA2</text>
<text x="1821.2" y="1302.4" font-size="22" letter-spacing="-0.2" fill="#231f20">SUCLG1</text>
<text x="1966.8" y="1302.4" font-size="22" letter-spacing="-0.2" fill="#231f20">SUCLG2</text>
<text x="1908.6" y="1331.4" font-size="21.2" font-weight="bold" fill="#231f20" stroke="#231f20" stroke-width="0.35">SUCL</text>
<text x="1846.8" y="1192.3" font-size="22" letter-spacing="-0.2" fill="#231f20">SDHA</text>
<text x="1870.3" y="1216.4" font-size="22" letter-spacing="-0.2" fill="#231f20">SDHB</text>
<text x="1769.0" y="1206.3" font-size="22" letter-spacing="-0.2" fill="#231f20">SDHC</text>
<text x="1761.6" y="1243.4" font-size="21.2" font-weight="bold" fill="#231f20" stroke="#231f20" stroke-width="0.35">SDH</text>
<text x="1807.3" y="1271.8" font-size="22" letter-spacing="-0.2" fill="#231f20">SDHD</text>
<text x="981.0" y="1425.4" font-size="21.8" font-weight="bold" text-anchor="middle" fill="#c41e3a">NAD<tspan font-size="12.5" dy="-8">+</tspan></text>
<circle cx="974.0" cy="1654.1" r="111.0" fill="none" stroke="#231f20" stroke-width="2.6"/>
<path d="M948.8,1497.8v12c0,16 3,24 13,32" fill="none" stroke="#231f20" stroke-width="2.3"/>
<circle cx="837.5" cy="1466.3" r="18.8" fill="#1f55a8" stroke="#231f20" stroke-width="2.8"/>
<circle cx="838.1" cy="1509.7" r="18.8" fill="#f08070" stroke="#231f20" stroke-width="2.8"/>
<circle cx="894.9" cy="1484.7" r="18.8" fill="#ee7060" stroke="#231f20" stroke-width="2.8"/>
<circle cx="1099.2" cy="1467.1" r="19.0" fill="#6d6e70" stroke="#a9abae" stroke-width="2.6"/>
<circle cx="978.6" cy="1544.6" r="18.8" fill="#f08572" stroke="#231f20" stroke-width="2.8"/>
<circle cx="904.2" cy="1570.7" r="18.8" fill="#f39080" stroke="#231f20" stroke-width="2.8"/>
<circle cx="870.2" cy="1625.5" r="18.8" fill="#f39080" stroke="#231f20" stroke-width="2.8"/>
<circle cx="1050.9" cy="1572.7" r="18.8" fill="#f08572" stroke="#231f20" stroke-width="2.8"/>
<circle cx="1058.0" cy="1633.2" r="18.8" fill="#f9b9ab" stroke="#231f20" stroke-width="2.8"/>
<circle cx="1094.1" cy="1614.7" r="10.5" fill="#ec6555" stroke="#231f20" stroke-width="2.3"/>
<circle cx="1118.2" cy="1621.8" r="10.5" fill="#ec6555" stroke="#231f20" stroke-width="2.3"/>
<circle cx="1099.2" cy="1638.8" r="10.5" fill="#ee7060" stroke="#231f20" stroke-width="2.3"/>
<circle cx="1058.9" cy="1699.9" r="10.5" fill="#f08070" stroke="#231f20" stroke-width="2.3"/>
<circle cx="1090.7" cy="1702.7" r="10.5" fill="#f08070" stroke="#231f20" stroke-width="2.3"/>
<circle cx="1078.2" cy="1725.4" r="10.5" fill="#ee7060" stroke="#231f20" stroke-width="2.3"/>
<circle cx="970.1" cy="1750.1" r="10.5" fill="#f08070" stroke="#231f20" stroke-width="2.3"/>
<circle cx="953.0" cy="1777.9" r="10.5" fill="#ee7565" stroke="#231f20" stroke-width="2.3"/>
<circle cx="980.8" cy="1778.8" r="10.5" fill="#f08575" stroke="#231f20" stroke-width="2.3"/>
<circle cx="885.5" cy="1688.5" r="10.5" fill="#e85548" stroke="#231f20" stroke-width="2.3"/>
<circle cx="896.8" cy="1709.8" r="10.5" fill="#ec6555" stroke="#231f20" stroke-width="2.3"/>
<circle cx="858.5" cy="1700.4" r="10.5" fill="#e85548" stroke="#231f20" stroke-width="2.3"/>
<circle cx="870.2" cy="1724.0" r="10.5" fill="#e85548" stroke="#231f20" stroke-width="2.3"/>
<polygon points="938.2,1534.1 943.5,1544.8 955.2,1546.5 946.7,1554.8 948.7,1566.5 938.2,1561.0 927.7,1566.5 929.7,1554.8 921.2,1546.5 932.9,1544.8" fill="#c41e3a" stroke="#c41e3a" stroke-width="0.8" stroke-linejoin="round"/>
<polygon points="1085.2,1657.6 1090.5,1668.3 1102.2,1670.0 1093.7,1678.3 1095.7,1690.0 1085.2,1684.5 1074.7,1690.0 1076.7,1678.3 1068.2,1670.0 1079.9,1668.3" fill="#c41e3a" stroke="#c41e3a" stroke-width="0.8" stroke-linejoin="round"/>
<polygon points="1031.3,1727.1 1036.6,1737.8 1048.3,1739.5 1039.8,1747.8 1041.8,1759.5 1031.3,1754.0 1020.8,1759.5 1022.8,1747.8 1014.3,1739.5 1026.0,1737.8" fill="#c41e3a" stroke="#c41e3a" stroke-width="0.8" stroke-linejoin="round"/>
<text x="760.6" y="1472.4" font-size="21.2" font-weight="bold" fill="#231f20" stroke="#231f20" stroke-width="0.35">ME2</text>
<text x="760.6" y="1517.0" font-size="21.2" font-weight="bold" fill="#231f20" stroke="#231f20" stroke-width="0.35">ME3</text>
<text x="878.9" y="1459.6" font-size="21.2" font-weight="bold" fill="#231f20" stroke="#231f20" stroke-width="0.35">FAHD1</text>
<text x="1022.3" y="1473.8" font-size="21.2" font-weight="bold" fill="#231f20" stroke="#231f20" stroke-width="0.35">NNT</text>
<text x="1004.7" y="1534.8" font-size="21.2" font-weight="bold" fill="#231f20" stroke="#231f20" stroke-width="0.35">CS</text>
<text x="1076.8" y="1552.7" font-size="21.2" font-weight="bold" fill="#231f20" stroke="#231f20" stroke-width="0.35">ACO2</text>
<text x="864.8" y="1545.3" font-size="21.2" font-weight="bold" fill="#231f20" stroke="#231f20" stroke-width="0.35">MDH2</text>
<text x="830.7" y="1601.5" font-size="21.2" font-weight="bold" fill="#231f20" stroke="#231f20" stroke-width="0.35">FH</text>
<text x="1087.5" y="1600.1" font-size="22" letter-spacing="-0.2" fill="#231f20">IDH3A</text>
<text x="1129.3" y="1619.1" font-size="22" letter-spacing="-0.2" fill="#231f20">IDH3B</text>
<text x="1142.0" y="1644.1" font-size="21.2" font-weight="bold" fill="#231f20" stroke="#231f20" stroke-width="0.35">IDH3</text>
<text x="1093.2" y="1668.2" font-size="22" letter-spacing="-0.2" fill="#231f20">IDH3G</text>
<text x="975.4" y="1639.0" font-size="22" letter-spacing="-0.2" fill="#231f20">IDH2</text>
<text x="996.2" y="1686.7" font-size="22" letter-spacing="-0.2" fill="#231f20">OGDH</text>
<text x="1103.1" y="1696.6" font-size="22" letter-spacing="-0.2" fill="#231f20">DLD</text>
<text x="1113.1" y="1729.2" font-size="21.2" font-weight="bold" fill="#231f20" stroke="#231f20" stroke-width="0.35">aKGDH</text>
<text x="1058.6" y="1754.8" font-size="22" letter-spacing="-0.2" fill="#231f20">DLST</text>
<text x="931.5" y="1736.9" font-size="22" letter-spacing="-0.2" fill="#231f20">SUCLA2</text>
<text x="851.1" y="1785.4" font-size="22" letter-spacing="-0.2" fill="#231f20">SUCLG1</text>
<text x="996.7" y="1785.4" font-size="22" letter-spacing="-0.2" fill="#231f20">SUCLG2</text>
<text x="938.5" y="1814.4" font-size="21.2" font-weight="bold" fill="#231f20" stroke="#231f20" stroke-width="0.35">SUCL</text>
<text x="876.7" y="1675.3" font-size="22" letter-spacing="-0.2" fill="#231f20">SDHA</text>
<text x="900.2" y="1699.4" font-size="22" letter-spacing="-0.2" fill="#231f20">SDHB</text>
<text x="798.9" y="1689.3" font-size="22" letter-spacing="-0.2" fill="#231f20">SDHC</text>
<text x="791.5" y="1726.4" font-size="21.2" font-weight="bold" fill="#231f20" stroke="#231f20" stroke-width="0.35">SDH</text>
<text x="837.2" y="1754.8" font-size="22" letter-spacing="-0.2" fill="#231f20">SDHD</text>
<text x="1461.1" y="1421.2" font-size="21.8" font-weight="bold" text-anchor="middle" fill="#c41e3a">α-Ketoglutarate</text>
<circle cx="1461.9" cy="1651.2" r="111.0" fill="none" stroke="#231f20" stroke-width="2.6"/>
<path d="M1436.7,1494.9v12c0,16 3,24 13,32" fill="none" stroke="#231f20" stroke-width="2.3"/>
<circle cx="1325.4" cy="1463.4" r="19.0" fill="#6d6e70" stroke="#a9abae" stroke-width="2.6"/>
<circle cx="1326.0" cy="1506.8" r="19.0" fill="#6d6e70" stroke="#a9abae" stroke-width="2.6"/>
<circle cx="1382.8" cy="1481.8" r="19.0" fill="#6d6e70" stroke="#a9abae" stroke-width="2.6"/>
<circle cx="1587.1" cy="1464.2" r="18.8" fill="#f8ab9b" stroke="#231f20" stroke-width="2.8"/>
<circle cx="1466.5" cy="1541.7" r="18.8" fill="#6f82c6" stroke="#231f20" stroke-width="2.8"/>
<circle cx="1392.1" cy="1567.8" r="18.8" fill="#6f82c6" stroke="#231f20" stroke-width="2.8"/>
<circle cx="1358.1" cy="1622.6" r="18.8" fill="#7587c8" stroke="#231f20" stroke-width="2.8"/>
<circle cx="1538.8" cy="1569.8" r="18.8" fill="#8795cf" stroke="#231f20" stroke-width="2.8"/>
<circle cx="1545.9" cy="1630.3" r="18.8" fill="#8090cc" stroke="#231f20" stroke-width="2.8"/>
<circle cx="1582.0" cy="1611.8" r="10.5" fill="#4060b0" stroke="#231f20" stroke-width="2.3"/>
<circle cx="1606.1" cy="1618.9" r="10.5" fill="#8090cc" stroke="#231f20" stroke-width="2.3"/>
<circle cx="1587.1" cy="1635.9" r="10.5" fill="#8090cc" stroke="#231f20" stroke-width="2.3"/>
<circle cx="1546.8" cy="1697.0" r="10.5" fill="#6f80c6" stroke="#231f20" stroke-width="2.3"/>
<circle cx="1578.6" cy="1699.8" r="10.5" fill="#7a8bca" stroke="#231f20" stroke-width="2.3"/>
<circle cx="1566.1" cy="1722.5" r="10.5" fill="#8090cc" stroke="#231f20" stroke-width="2.3"/>
<circle cx="1458.0" cy="1747.2" r="10.5" fill="#8a98d0" stroke="#231f20" stroke-width="2.3"/>
<circle cx="1440.9" cy="1775.0" r="10.5" fill="#8090cc" stroke="#231f20" stroke-width="2.3"/>
<circle cx="1468.7" cy="1775.9" r="10.8" fill="#6d6e70" stroke="#a9abae" stroke-width="2.2"/>
<circle cx="1373.4" cy="1685.6" r="10.5" fill="#9aa5d8" stroke="#231f20" stroke-width="2.3"/>
<circle cx="1384.7" cy="1706.9" r="10.5" fill="#8a98d0" stroke="#231f20" stroke-width="2.3"/>
<circle cx="1346.4" cy="1697.5" r="10.8" fill="#6d6e70" stroke="#a9abae" stroke-width="2.2"/>
<circle cx="1358.1" cy="1721.1" r="10.8" fill="#6d6e70" stroke="#a9abae" stroke-width="2.2"/>
<polygon points="1572.6,1657.4 1577.9,1668.1 1589.6,1669.8 1581.1,1678.1 1583.1,1689.8 1572.6,1684.2 1562.1,1689.8 1564.1,1678.1 1555.6,1669.8 1567.3,1668.1" fill="#c41e3a" stroke="#c41e3a" stroke-width="0.8" stroke-linejoin="round"/>
<text x="1248.5" y="1469.5" font-size="21.2" font-weight="bold" fill="#231f20" stroke="#231f20" stroke-width="0.35">ME2</text>
<text x="1248.5" y="1514.1" font-size="21.2" font-weight="bold" fill="#231f20" stroke="#231f20" stroke-width="0.35">ME3</text>
<text x="1366.8" y="1456.7" font-size="21.2" font-weight="bold" fill="#231f20" stroke="#231f20" stroke-width="0.35">FAHD1</text>
<text x="1510.2" y="1470.9" font-size="21.2" font-weight="bold" fill="#231f20" stroke="#231f20" stroke-width="0.35">NNT</text>
<text x="1492.6" y="1531.9" font-size="21.2" font-weight="bold" fill="#231f20" stroke="#231f20" stroke-width="0.35">CS</text>
<text x="1564.7" y="1549.8" font-size="21.2" font-weight="bold" fill="#231f20" stroke="#231f20" stroke-width="0.35">ACO2</text>
<text x="1352.7" y="1542.4" font-size="21.2" font-weight="bold" fill="#231f20" stroke="#231f20" stroke-width="0.35">MDH2</text>
<text x="1318.6" y="1598.6" font-size="21.2" font-weight="bold" fill="#231f20" stroke="#231f20" stroke-width="0.35">FH</text>
<text x="1575.4" y="1597.2" font-size="22" letter-spacing="-0.2" fill="#231f20">IDH3A</text>
<text x="1617.2" y="1616.2" font-size="22" letter-spacing="-0.2" fill="#231f20">IDH3B</text>
<text x="1629.9" y="1641.2" font-size="21.2" font-weight="bold" fill="#231f20" stroke="#231f20" stroke-width="0.35">IDH3</text>
<text x="1581.1" y="1665.3" font-size="22" letter-spacing="-0.2" fill="#231f20">IDH3G</text>
<text x="1463.3" y="1636.1" font-size="22" letter-spacing="-0.2" fill="#231f20">IDH2</text>
<text x="1484.1" y="1683.8" font-size="22" letter-spacing="-0.2" fill="#231f20">OGDH</text>
<text x="1591.0" y="1693.7" font-size="22" letter-spacing="-0.2" fill="#231f20">DLD</text>
<text x="1601.0" y="1726.3" font-size="21.2" font-weight="bold" fill="#231f20" stroke="#231f20" stroke-width="0.35">aKGDH</text>
<text x="1546.5" y="1751.9" font-size="22" letter-spacing="-0.2" fill="#231f20">DLST</text>
<text x="1419.4" y="1734.0" font-size="22" letter-spacing="-0.2" fill="#231f20">SUCLA2</text>
<text x="1339.0" y="1782.5" font-size="22" letter-spacing="-0.2" fill="#231f20">SUCLG1</text>
<text x="1484.6" y="1782.5" font-size="22" letter-spacing="-0.2" fill="#231f20">SUCLG2</text>
<text x="1426.4" y="1811.5" font-size="21.2" font-weight="bold" fill="#231f20" stroke="#231f20" stroke-width="0.35">SUCL</text>
<text x="1353.2" y="1672.0" font-size="22" letter-spacing="-0.2" fill="#231f20">SDHA</text>
<text x="1388.1" y="1696.5" font-size="22" letter-spacing="-0.2" fill="#231f20">SDHB</text>
<text x="1286.8" y="1686.4" font-size="22" letter-spacing="-0.2" fill="#231f20">SDHC</text>
<text x="1279.4" y="1723.5" font-size="21.2" font-weight="bold" fill="#231f20" stroke="#231f20" stroke-width="0.35">SDH</text>
<text x="1325.1" y="1751.9" font-size="22" letter-spacing="-0.2" fill="#231f20">SDHD</text>
<text x="1936.0" y="1421.2" font-size="21.8" font-weight="bold" text-anchor="middle" fill="#c41e3a">Succinate</text>
<circle cx="1945.9" cy="1646.4" r="111.0" fill="none" stroke="#231f20" stroke-width="2.6"/>
<path d="M1920.7,1490.1v12c0,16 3,24 13,32" fill="none" stroke="#231f20" stroke-width="2.3"/>
<circle cx="1809.4" cy="1458.6" r="18.8" fill="#4a6ab8" stroke="#231f20" stroke-width="2.8"/>
<circle cx="1810.0" cy="1502.0" r="18.8" fill="#f08070" stroke="#231f20" stroke-width="2.8"/>
<circle cx="1866.8" cy="1477.0" r="18.8" fill="#ea5045" stroke="#231f20" stroke-width="2.8"/>
<circle cx="2071.1" cy="1459.4" r="18.8" fill="#99a3d8" stroke="#231f20" stroke-width="2.8"/>
<circle cx="1950.5" cy="1536.9" r="18.8" fill="#ec6050" stroke="#231f20" stroke-width="2.8"/>
<circle cx="1876.1" cy="1563.0" r="18.8" fill="#ee6a5c" stroke="#231f20" stroke-width="2.8"/>
<circle cx="1842.1" cy="1617.8" r="18.8" fill="#f08070" stroke="#231f20" stroke-width="2.8"/>
<circle cx="2022.8" cy="1565.0" r="18.8" fill="#ee7060" stroke="#231f20" stroke-width="2.8"/>
<circle cx="2029.9" cy="1625.5" r="18.8" fill="#f9b5a8" stroke="#231f20" stroke-width="2.8"/>
<circle cx="2066.0" cy="1607.0" r="10.5" fill="#e84040" stroke="#231f20" stroke-width="2.3"/>
<circle cx="2090.1" cy="1614.1" r="10.5" fill="#e84040" stroke="#231f20" stroke-width="2.3"/>
<circle cx="2071.1" cy="1631.1" r="10.5" fill="#e84040" stroke="#231f20" stroke-width="2.3"/>
<circle cx="2030.8" cy="1692.2" r="10.5" fill="#ea5045" stroke="#231f20" stroke-width="2.3"/>
<circle cx="2062.6" cy="1695.0" r="10.5" fill="#e84040" stroke="#231f20" stroke-width="2.3"/>
<circle cx="2050.1" cy="1717.7" r="10.5" fill="#e63035" stroke="#231f20" stroke-width="2.3"/>
<circle cx="1942.0" cy="1742.4" r="10.5" fill="#ec6050" stroke="#231f20" stroke-width="2.3"/>
<circle cx="1924.9" cy="1770.2" r="10.5" fill="#ea5548" stroke="#231f20" stroke-width="2.3"/>
<circle cx="1952.7" cy="1771.1" r="10.5" fill="#ee6a5c" stroke="#231f20" stroke-width="2.3"/>
<circle cx="1857.4" cy="1680.8" r="10.5" fill="#e52030" stroke="#231f20" stroke-width="2.3"/>
<circle cx="1868.7" cy="1702.1" r="10.5" fill="#e83038" stroke="#231f20" stroke-width="2.3"/>
<circle cx="1830.4" cy="1692.7" r="10.5" fill="#ea5045" stroke="#231f20" stroke-width="2.3"/>
<circle cx="1842.1" cy="1716.3" r="10.5" fill="#ec5a4d" stroke="#231f20" stroke-width="2.3"/>
<polygon points="1891.0,1723.7 1896.3,1734.4 1908.0,1736.1 1899.5,1744.4 1901.5,1756.1 1891.0,1750.6 1880.5,1756.1 1882.5,1744.4 1874.0,1736.1 1885.7,1734.4" fill="#c41e3a" stroke="#c41e3a" stroke-width="0.8" stroke-linejoin="round"/>
<text x="1732.8" y="1467.5" font-size="21.2" font-weight="bold" fill="#231f20" stroke="#231f20" stroke-width="0.35">ME2</text>
<text x="1732.8" y="1512.1" font-size="21.2" font-weight="bold" fill="#231f20" stroke="#231f20" stroke-width="0.35">ME3</text>
<text x="1851.1" y="1454.3" font-size="21.2" font-weight="bold" fill="#231f20" stroke="#231f20" stroke-width="0.35">FAHD1</text>
<text x="1994.5" y="1465.1" font-size="21.2" font-weight="bold" fill="#231f20" stroke="#231f20" stroke-width="0.35">NNT</text>
<text x="1976.9" y="1527.6" font-size="21.2" font-weight="bold" fill="#231f20" stroke="#231f20" stroke-width="0.35">CS</text>
<text x="2049.0" y="1544.0" font-size="21.2" font-weight="bold" fill="#231f20" stroke="#231f20" stroke-width="0.35">ACO2</text>
<text x="1837.0" y="1540.5" font-size="21.2" font-weight="bold" fill="#231f20" stroke="#231f20" stroke-width="0.35">MDH2</text>
<text x="1802.9" y="1592.8" font-size="21.2" font-weight="bold" fill="#231f20" stroke="#231f20" stroke-width="0.35">FH</text>
<text x="2059.7" y="1591.4" font-size="22" letter-spacing="-0.2" fill="#231f20">IDH3A</text>
<text x="2101.5" y="1610.4" font-size="22" letter-spacing="-0.2" fill="#231f20">IDH3B</text>
<text x="2114.2" y="1635.4" font-size="21.2" font-weight="bold" fill="#231f20" stroke="#231f20" stroke-width="0.35">IDH3</text>
<text x="2065.4" y="1659.5" font-size="22" letter-spacing="-0.2" fill="#231f20">IDH3G</text>
<text x="1947.6" y="1630.3" font-size="22" letter-spacing="-0.2" fill="#231f20">IDH2</text>
<text x="1968.4" y="1678.0" font-size="22" letter-spacing="-0.2" fill="#231f20">OGDH</text>
<text x="2075.3" y="1687.9" font-size="22" letter-spacing="-0.2" fill="#231f20">DLD</text>
<text x="2085.3" y="1720.5" font-size="21.2" font-weight="bold" fill="#231f20" stroke="#231f20" stroke-width="0.35">aKGDH</text>
<text x="2030.8" y="1746.1" font-size="22" letter-spacing="-0.2" fill="#231f20">DLST</text>
<text x="1903.7" y="1728.2" font-size="22" letter-spacing="-0.2" fill="#231f20">SUCLA2</text>
<text x="1823.3" y="1776.7" font-size="22" letter-spacing="-0.2" fill="#231f20">SUCLG1</text>
<text x="1968.9" y="1776.7" font-size="22" letter-spacing="-0.2" fill="#231f20">SUCLG2</text>
<text x="1910.0" y="1814.8" font-size="21.2" font-weight="bold" fill="#231f20" stroke="#231f20" stroke-width="0.35">SUCL</text>
<text x="1848.9" y="1666.6" font-size="22" letter-spacing="-0.2" fill="#231f20">SDHA</text>
<text x="1872.4" y="1690.7" font-size="22" letter-spacing="-0.2" fill="#231f20">SDHB</text>
<text x="1771.1" y="1680.6" font-size="22" letter-spacing="-0.2" fill="#231f20">SDHC</text>
<text x="1763.7" y="1717.7" font-size="21.2" font-weight="bold" fill="#231f20" stroke="#231f20" stroke-width="0.35">SDH</text>
<text x="1809.4" y="1746.1" font-size="22" letter-spacing="-0.2" fill="#231f20">SDHD</text>
<polygon points="884.3,1846.9 889.6,1857.6 901.4,1859.3 892.9,1867.7 894.9,1879.5 884.3,1873.9 873.7,1879.5 875.7,1867.7 867.2,1859.3 879.0,1857.6" fill="#c41e3a" stroke="#c41e3a" stroke-width="0.8" stroke-linejoin="round"/>
<text x="912.0" y="1869.1" font-size="22" fill="#231f20">Metabolite</text>
<circle cx="1075.2" cy="1863.2" r="19.0" fill="#d04a50" stroke="#231f20" stroke-width="2.8"/>
<text x="1104.8" y="1853.8" font-size="22" fill="#231f20">Pos. protein</text>
<text x="1104.8" y="1880.4" font-size="22" fill="#231f20">correlate</text>
<circle cx="1301.1" cy="1862.8" r="19.0" fill="#4a66b8" stroke="#231f20" stroke-width="2.8"/>
<text x="1332.6" y="1853.8" font-size="22" fill="#231f20">Neg. protein</text>
<text x="1332.6" y="1880.4" font-size="22" fill="#231f20">correlate</text>
<circle cx="1498.8" cy="1864.8" r="19.3" fill="#6d6e70" stroke="#a9abae" stroke-width="2.8"/>
<text x="1528.8" y="1855.2" font-size="22" fill="#231f20">No significant</text>
<text x="1528.8" y="1882.0" font-size="22" fill="#231f20">correlation</text>
<defs><linearGradient id="cbh" x1="0" x2="1" y1="0" y2="0"><stop offset="0" stop-color="#1f4fa8"/><stop offset="0.25" stop-color="#7b86c6"/><stop offset="0.5" stop-color="#ffffff"/><stop offset="0.75" stop-color="#f39a8a"/><stop offset="1" stop-color="#e8202a"/></linearGradient><linearGradient id="cbv" x1="0" x2="0" y1="0" y2="1"><stop offset="0" stop-color="#e8202a"/><stop offset="0.25" stop-color="#f39a8a"/><stop offset="0.5" stop-color="#ffffff"/><stop offset="0.75" stop-color="#7b86c6"/><stop offset="1" stop-color="#1f4fa8"/></linearGradient></defs>
<rect x="1743.0" y="1840.0" width="264.3" height="30.8" fill="url(#cbh)" stroke="#231f20" stroke-width="1.6"/>
<line x1="1874.9" y1="1840.0" x2="1874.9" y2="1870.8" stroke="#231f20" stroke-width="1.6"/>
<text x="1744.9" y="1898.0" font-size="21" text-anchor="middle" fill="#231f20">-0.50</text>
<text x="1875.7" y="1898.0" font-size="21" text-anchor="middle" fill="#231f20">0</text>
<text x="2005.0" y="1898.0" font-size="21" text-anchor="middle" fill="#231f20">0.71</text>
<text x="2026.1" y="1862.0" font-size="22" fill="#231f20">Pearson r</text>
<text x="742.0" y="2010.2" font-size="66" font-weight="bold" fill="#000">i</text>
<text x="945.3" y="1986.7" font-size="21.5" font-weight="bold" text-anchor="middle" fill="#c41e3a">Glucose</text>
<line x1="940.8" y1="2012.0" x2="940.8" y2="2581.0" stroke="#231f20" stroke-width="2.3"/>
<path d="M940.8,2126c0,-9 4,-13 14,-13H1062.6" fill="none" stroke="#231f20" stroke-width="2.3"/>
<line x1="873.4" y1="2254.4" x2="940.8" y2="2254.4" stroke="#231f20" stroke-width="2.3"/>
<path d="M940.8,2306c0,16 6,23 22,23H1062.6" fill="none" stroke="#231f20" stroke-width="2.3"/>
<path d="M940.8,2376c0,15 6,21 22,21H1062.6" fill="none" stroke="#231f20" stroke-width="2.3"/>
<circle cx="830.0" cy="2033.7" r="10.4" fill="#414042" stroke="#231f20" stroke-width="2.3"/>
<circle cx="875.8" cy="2033.1" r="10.4" fill="#1f55a8" stroke="#231f20" stroke-width="2.3"/>
<circle cx="900.8" cy="2033.1" r="10.4" fill="#7080c8" stroke="#231f20" stroke-width="2.3"/>
<circle cx="925.6" cy="2033.1" r="10.4" fill="#8895d0" stroke="#231f20" stroke-width="2.3"/>
<circle cx="970.4" cy="2033.7" r="18.9" fill="#414042" stroke="#231f20" stroke-width="2.8"/>
<circle cx="1018.6" cy="2033.7" r="19.2" fill="#6d6e70" stroke="#a9abae" stroke-width="2.6"/>
<circle cx="940.8" cy="2087.4" r="19.2" fill="#6d6e70" stroke="#a9abae" stroke-width="2.6"/>
<circle cx="1035.1" cy="2098.1" r="10.7" fill="#6d6e70" stroke="#a9abae" stroke-width="2.2"/>
<circle cx="1035.1" cy="2127.1" r="10.7" fill="#6d6e70" stroke="#a9abae" stroke-width="2.2"/>
<circle cx="926.2" cy="2141.4" r="10.4" fill="#414042" stroke="#231f20" stroke-width="2.3"/>
<circle cx="926.2" cy="2166.5" r="10.4" fill="#8895d0" stroke="#231f20" stroke-width="2.3"/>
<circle cx="956.1" cy="2154.6" r="10.4" fill="#4060b8" stroke="#231f20" stroke-width="2.3"/>
<circle cx="956.1" cy="2197.9" r="10.7" fill="#6d6e70" stroke="#a9abae" stroke-width="2.2"/>
<circle cx="956.1" cy="2223.2" r="10.7" fill="#6d6e70" stroke="#a9abae" stroke-width="2.2"/>
<circle cx="926.8" cy="2211.0" r="10.7" fill="#6d6e70" stroke="#a9abae" stroke-width="2.2"/>
<circle cx="908.2" cy="2255.0" r="18.9" fill="#414042" stroke="#231f20" stroke-width="2.8"/>
<circle cx="956.1" cy="2294.0" r="10.4" fill="#7080c8" stroke="#231f20" stroke-width="2.3"/>
<circle cx="926.2" cy="2293.4" r="10.4" fill="#99a5d8" stroke="#231f20" stroke-width="2.3"/>
<circle cx="997.0" cy="2327.6" r="19.2" fill="#6d6e70" stroke="#a9abae" stroke-width="2.6"/>
<circle cx="926.2" cy="2338.3" r="10.4" fill="#8090d0" stroke="#231f20" stroke-width="2.3"/>
<circle cx="926.2" cy="2364.2" r="10.4" fill="#8895d0" stroke="#231f20" stroke-width="2.3"/>
<circle cx="997.0" cy="2396.9" r="19.2" fill="#6d6e70" stroke="#a9abae" stroke-width="2.6"/>
<circle cx="926.2" cy="2416.7" r="10.7" fill="#6d6e70" stroke="#a9abae" stroke-width="2.2"/>
<circle cx="926.2" cy="2442.0" r="10.4" fill="#414042" stroke="#231f20" stroke-width="2.3"/>
<circle cx="965.2" cy="2434.4" r="19.2" fill="#6d6e70" stroke="#a9abae" stroke-width="2.6"/>
<circle cx="926.2" cy="2488.4" r="10.4" fill="#414042" stroke="#231f20" stroke-width="2.3"/>
<circle cx="926.2" cy="2513.8" r="10.7" fill="#6d6e70" stroke="#a9abae" stroke-width="2.2"/>
<circle cx="955.8" cy="2488.4" r="10.4" fill="#414042" stroke="#231f20" stroke-width="2.3"/>
<circle cx="955.8" cy="2513.8" r="10.4" fill="#414042" stroke="#231f20" stroke-width="2.3"/>
<circle cx="917.9" cy="2555.9" r="18.9" fill="#5068b8" stroke="#231f20" stroke-width="2.8"/>
<circle cx="965.2" cy="2555.9" r="19.2" fill="#6d6e70" stroke="#a9abae" stroke-width="2.6"/>
<polygon points="941.4,1990.4 946.7,2001.1 958.4,2002.8 949.9,2011.1 951.9,2022.8 941.4,2017.2 930.9,2022.8 932.9,2011.1 924.4,2002.8 936.1,2001.1" fill="#c41e3a" stroke="#c41e3a" stroke-width="0.8" stroke-linejoin="round"/>
<text x="887.4" y="2015.7" font-size="21.2" font-weight="bold" fill="#231f20" stroke="#231f20" stroke-width="0.35">HK</text>
<text x="966.8" y="2005.6" font-size="21.2" font-weight="bold" fill="#231f20" stroke="#231f20" stroke-width="0.35">GCK</text>
<text x="1055.3" y="2049.9" font-size="21.2" font-weight="bold" fill="#231f20" stroke="#231f20" stroke-width="0.35">ADPGK</text>
<text x="970.4" y="2094.1" font-size="21.2" font-weight="bold" fill="#231f20" stroke="#231f20" stroke-width="0.35">GPI</text>
<text x="857.8" y="2162.2" font-size="21.2" font-weight="bold" fill="#231f20" stroke="#231f20" stroke-width="0.35">PFK</text>
<text x="984.2" y="2217.1" font-size="21.2" font-weight="bold" fill="#231f20" stroke="#231f20" stroke-width="0.35">ALDO</text>
<text x="836.7" y="2282.7" font-size="21.2" font-weight="bold" fill="#231f20" stroke="#231f20" stroke-width="0.35">TPI1</text>
<text x="986.6" y="2301.0" font-size="21.2" font-weight="bold" fill="#231f20" stroke="#231f20" stroke-width="0.35">GAPDH</text>
<text x="1029.3" y="2351.1" font-size="21.2" font-weight="bold" fill="#231f20" stroke="#231f20" stroke-width="0.35">BPGM</text>
<text x="855.1" y="2359.0" font-size="21.2" font-weight="bold" fill="#231f20" stroke="#231f20" stroke-width="0.35">PGK</text>
<text x="1028.4" y="2389.6" font-size="21.2" font-weight="bold" fill="#231f20" stroke="#231f20" stroke-width="0.35">PGP</text>
<text x="852.9" y="2435.0" font-size="21.2" font-weight="bold" fill="#231f20" stroke="#231f20" stroke-width="0.35">PGM</text>
<text x="1008.0" y="2442.0" font-size="21.2" font-weight="bold" fill="#231f20" stroke="#231f20" stroke-width="0.35">PGM2L1</text>
<text x="856.6" y="2508.3" font-size="21.2" font-weight="bold" fill="#231f20" stroke="#231f20" stroke-width="0.35">ENO</text>
<text x="820.9" y="2564.1" font-size="21.2" font-weight="bold" fill="#231f20" stroke="#231f20" stroke-width="0.35">PKLR</text>
<text x="999.4" y="2564.1" font-size="21.2" font-weight="bold" fill="#231f20" stroke="#231f20" stroke-width="0.35">PKM</text>
<text x="792.8" y="2062.7" font-size="21.4" letter-spacing="-0.2" fill="#231f20">HKDC1</text>
<text x="875.8" y="2062.7" font-size="22" text-anchor="middle" letter-spacing="-0.2" fill="#231f20">1</text>
<text x="900.8" y="2062.7" font-size="22" text-anchor="middle" letter-spacing="-0.2" fill="#231f20">2</text>
<text x="925.3" y="2062.7" font-size="22" text-anchor="middle" letter-spacing="-0.2" fill="#231f20">3</text>
<text x="1048.9" y="2101.8" font-size="22" letter-spacing="-0.2" fill="#231f20">GNPDA1</text>
<text x="1048.9" y="2136.9" font-size="22" letter-spacing="-0.2" fill="#231f20">GNPDA2</text>
<text x="916.4" y="2134.7" font-size="22" text-anchor="end" letter-spacing="-0.2" fill="#231f20">PFKM</text>
<text x="915.5" y="2187.8" font-size="22" text-anchor="end" letter-spacing="-0.2" fill="#231f20">PFKL</text>
<text x="968.3" y="2171.3" font-size="22" letter-spacing="-0.2" fill="#231f20">PFKP</text>
<text x="968.3" y="2193.3" font-size="22" letter-spacing="-0.2" fill="#231f20">ALDOA</text>
<text x="968.3" y="2242.1" font-size="22" letter-spacing="-0.2" fill="#231f20">ALDOB</text>
<text x="911.8" y="2219.3" font-size="22" text-anchor="end" letter-spacing="-0.2" fill="#231f20">ALDOC</text>
<text x="950.6" y="2278.8" font-size="22" letter-spacing="-0.2" fill="#231f20">GAPDH</text>
<text x="916.1" y="2313.0" font-size="22" text-anchor="end" letter-spacing="-0.2" fill="#231f20">GAPDHS</text>
<text x="914.0" y="2335.8" font-size="22" text-anchor="end" letter-spacing="-0.2" fill="#231f20">PGK1</text>
<text x="914.0" y="2381.6" font-size="22" text-anchor="end" letter-spacing="-0.2" fill="#231f20">PGK2</text>
<text x="912.4" y="2412.4" font-size="22" text-anchor="end" letter-spacing="-0.2" fill="#231f20">PGAM1</text>
<text x="913.0" y="2459.8" font-size="22" text-anchor="end" letter-spacing="-0.2" fill="#231f20">PGAM2</text>
<text x="914.0" y="2486.3" font-size="22" text-anchor="end" letter-spacing="-0.2" fill="#231f20">ENO1</text>
<text x="914.0" y="2530.6" font-size="22" text-anchor="end" letter-spacing="-0.2" fill="#231f20">ENO2</text>
<text x="969.5" y="2495.5" font-size="22" letter-spacing="-0.2" fill="#231f20">ENO3</text>
<text x="969.5" y="2521.4" font-size="22" letter-spacing="-0.2" fill="#231f20">ENO4</text>
<rect x="1254.5" y="2002.3" width="31.9" height="263.7" fill="url(#cbv)" stroke="#231f20" stroke-width="1.6"/>
<line x1="1254.5" y1="2133.8" x2="1286.4" y2="2133.8" stroke="#231f20" stroke-width="1.6"/>
<text x="1292.3" y="2015.6" font-size="21" fill="#231f20">0.69</text>
<text x="1292.3" y="2145.6" font-size="21" fill="#231f20">0</text>
<text x="1292.3" y="2267.4" font-size="21" fill="#231f20">-0.50</text>
<text x="1250.5" y="2115.0" font-size="22" text-anchor="middle" transform="rotate(-90 1250.5 2115.0)" fill="#231f20">Pearson r</text>
<polygon points="1266.6,2350.9 1271.9,2361.6 1283.7,2363.3 1275.2,2371.7 1277.2,2383.5 1266.6,2377.9 1256.0,2383.5 1258.0,2371.7 1249.5,2363.3 1261.3,2361.6" fill="#c41e3a" stroke="#c41e3a" stroke-width="0.8" stroke-linejoin="round"/>
<text x="1294.7" y="2372.4" font-size="22" fill="#231f20">Metabolite</text>
<circle cx="1266.6" cy="2427.9" r="19.0" fill="#d04a50" stroke="#231f20" stroke-width="2.8"/>
<text x="1296.8" y="2418.2" font-size="22" fill="#231f20">Pos. protein</text>
<text x="1296.8" y="2444.8" font-size="22" fill="#231f20">correlate</text>
<circle cx="1266.6" cy="2491.2" r="19.0" fill="#4a66b8" stroke="#231f20" stroke-width="2.8"/>
<text x="1297.6" y="2481.7" font-size="22" fill="#231f20">Neg. protein</text>
<text x="1297.6" y="2507.7" font-size="22" fill="#231f20">correlate</text>
<circle cx="1266.6" cy="2560.1" r="19.3" fill="#6d6e70" stroke="#a9abae" stroke-width="2.8"/>
<text x="1296.8" y="2549.1" font-size="22" fill="#231f20">No significant</text>
<text x="1296.8" y="2574.8" font-size="22" fill="#231f20">correlation</text>
</svg></body></html>
